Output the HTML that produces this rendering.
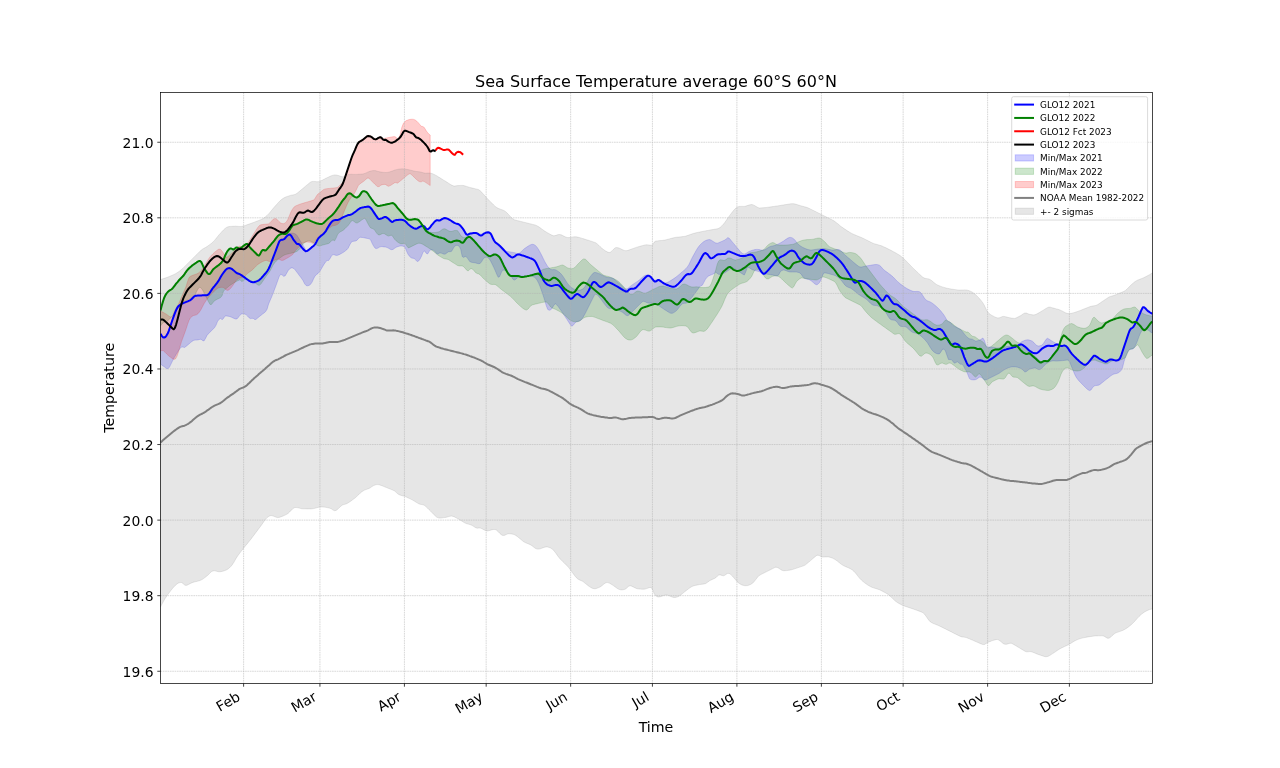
<!DOCTYPE html>
<html lang="en"><head><meta charset="utf-8"><title>Sea Surface Temperature average 60°S 60°N</title>
<style>html,body{margin:0;padding:0;background:#fff;width:1280px;height:768px;overflow:hidden}</style></head>
<body>
<svg width="1280" height="768" viewBox="0 0 1280 768" style="display:block;font-family:'DejaVu Sans','Liberation Sans',sans-serif">
<rect width="1280" height="768" fill="#fff"/>
<defs><clipPath id="ax"><rect x="160.5" y="92.5" width="992.0" height="591.0"/></clipPath></defs>
<g clip-path="url(#ax)">
<path d="M160.5,333.8L162.0,336.3L163.5,337.5L165.0,337.2L166.5,335.6L168.0,332.9L169.5,328.8L171.0,324.2L172.5,319.7L174.0,315.5L175.5,311.5L177.0,308.2L178.5,306.1L180.0,305.0L181.5,304.0L183.0,303.2L184.5,302.5L186.0,302.0L187.5,301.4L189.0,300.8L190.5,300.1L192.0,298.7L193.5,297.0L195.0,295.9L196.5,295.7L198.0,295.6L199.5,295.5L201.0,295.4L202.5,295.3L204.0,295.3L205.5,295.2L207.0,295.1L208.5,294.4L210.0,292.4L211.5,289.9L213.0,287.8L214.5,286.0L216.0,284.1L217.5,282.2L219.0,279.9L220.5,277.2L222.0,274.8L223.5,272.6L225.0,270.6L226.5,269.0L228.0,268.3L229.5,268.1L231.0,268.5L232.5,269.4L234.0,270.8L235.5,272.2L237.0,273.2L238.5,273.8L240.0,274.3L241.5,275.2L243.0,276.3L244.5,277.5L246.0,278.6L247.5,279.7L249.0,280.6L250.5,281.5L252.0,282.2L253.5,282.2L255.0,281.9L256.5,281.4L258.0,280.8L259.5,279.8L261.1,278.3L262.6,276.6L264.1,274.9L265.6,273.2L267.1,271.2L268.6,268.8L270.1,265.6L271.6,261.7L273.1,257.7L274.6,253.7L276.1,249.7L277.6,245.7L279.1,241.8L280.6,240.0L282.1,239.7L283.6,239.5L285.1,238.0L286.6,236.0L288.1,234.6L289.6,233.7L291.1,233.2L292.6,233.1L294.1,233.4L295.6,234.1L297.1,235.6L298.6,238.0L300.1,240.6L301.6,243.0L303.1,245.2L304.6,247.8L306.1,250.4L307.6,250.8L309.1,249.6L310.6,248.3L312.1,247.2L313.6,245.9L315.1,244.3L316.6,241.5L318.1,238.8L319.6,237.2L321.1,235.8L322.6,234.6L324.1,233.2L325.6,231.5L327.1,228.9L328.6,226.3L330.1,223.9L331.6,221.9L333.1,220.7L334.6,220.2L336.1,219.9L337.6,220.0L339.1,219.6L340.6,218.7L342.1,217.8L343.6,217.0L345.1,216.4L346.6,215.7L348.1,215.2L349.6,215.0L351.1,214.6L352.6,213.7L354.1,212.7L355.6,211.6L357.1,210.4L358.6,209.2L360.1,208.2L361.6,207.7L363.1,207.4L364.6,207.1L366.1,206.8L367.6,206.6L369.1,206.8L370.6,207.7L372.1,209.7L373.6,212.0L375.1,214.3L376.6,216.5L378.1,218.5L379.6,219.0L381.1,218.5L382.6,218.0L384.1,217.2L385.6,217.0L387.1,217.8L388.6,219.0L390.1,220.5L391.6,221.9L393.1,221.7L394.6,220.5L396.1,220.2L397.6,219.9L399.1,219.8L400.6,219.8L402.1,219.9L403.6,220.3L405.1,221.1L406.6,222.5L408.1,224.2L409.6,225.5L411.1,226.6L412.6,227.6L414.1,228.4L415.6,228.8L417.1,228.5L418.6,227.4L420.1,226.6L421.6,226.1L423.1,225.9L424.6,226.7L426.1,228.7L427.6,229.3L429.1,228.3L430.6,226.5L432.1,224.5L433.6,222.8L435.1,221.2L436.6,220.3L438.1,220.4L439.6,220.5L441.1,219.7L442.6,218.7L444.1,218.2L445.6,218.1L447.1,218.6L448.6,219.3L450.1,220.1L451.6,221.1L453.1,222.1L454.6,223.0L456.1,223.6L457.6,223.9L459.2,224.6L460.7,226.0L462.2,227.9L463.7,229.9L465.2,232.4L466.7,234.5L468.2,234.5L469.7,233.1L471.2,233.1L472.7,233.2L474.2,233.4L475.7,233.6L477.2,233.8L478.7,233.9L480.2,234.0L481.7,233.9L483.2,233.6L484.7,233.3L486.2,233.0L487.7,232.8L489.2,232.8L490.7,233.4L492.2,235.6L493.7,238.8L495.2,241.8L496.7,243.8L498.2,245.6L499.7,247.2L501.2,248.7L502.7,249.9L504.2,250.5L505.7,251.0L507.2,251.4L508.7,251.7L510.2,251.9L511.7,252.2L513.2,252.4L514.7,252.7L516.2,253.2L517.7,253.6L519.2,253.3L520.7,252.2L522.2,250.7L523.7,249.2L525.2,248.1L526.7,247.1L528.2,246.1L529.7,245.2L531.2,244.5L532.7,244.3L534.2,244.7L535.7,245.7L537.2,247.4L538.7,249.7L540.2,252.4L541.7,255.3L543.2,258.4L544.7,261.4L546.2,264.1L547.7,266.4L549.2,268.3L550.7,269.4L552.2,269.7L553.7,269.6L555.2,269.7L556.7,270.4L558.2,271.4L559.7,272.6L561.2,274.1L562.7,275.9L564.2,278.2L565.7,280.6L567.2,282.9L568.7,284.9L570.2,286.5L571.7,287.8L573.2,288.7L574.7,289.4L576.2,289.7L577.7,290.0L579.2,290.1L580.7,289.9L582.2,289.3L583.7,288.3L585.2,286.3L586.7,283.4L588.2,280.2L589.7,277.4L591.2,275.4L592.7,273.6L594.2,272.5L595.7,272.5L597.2,272.9L598.7,273.4L600.2,274.1L601.7,274.9L603.2,275.6L604.7,276.4L606.2,277.1L607.7,277.5L609.2,277.6L610.7,277.7L612.2,278.0L613.7,278.8L615.2,280.0L616.7,281.3L618.2,282.5L619.7,283.8L621.2,285.2L622.7,286.8L624.2,288.2L625.7,289.0L627.2,288.8L628.7,287.8L630.2,286.4L631.7,285.2L633.2,284.2L634.7,283.2L636.2,282.2L637.7,281.2L639.2,280.1L640.7,278.8L642.2,277.4L643.7,276.2L645.2,275.3L646.7,275.1L648.2,275.4L649.7,276.0L651.2,277.5L652.7,279.2L654.2,280.1L655.7,280.1L657.3,279.9L658.8,279.9L660.3,280.7L661.8,281.9L663.3,282.8L664.8,283.0L666.3,282.7L667.8,282.2L669.3,281.4L670.8,280.5L672.3,279.6L673.8,278.6L675.3,277.6L676.8,276.4L678.3,275.2L679.8,273.9L681.3,272.6L682.8,271.4L684.3,270.1L685.8,268.7L687.3,267.0L688.8,264.7L690.3,261.6L691.8,258.4L693.3,255.6L694.8,252.9L696.3,250.2L697.8,247.8L699.3,245.8L700.8,244.2L702.3,242.8L703.8,241.6L705.3,240.7L706.8,240.1L708.3,239.7L709.8,239.6L711.3,240.2L712.8,241.2L714.3,242.2L715.8,243.0L717.3,243.2L718.8,242.7L720.3,242.0L721.8,241.4L723.3,240.7L724.8,240.0L726.3,238.9L727.8,237.6L729.3,238.3L730.8,240.1L732.3,241.9L733.8,243.7L735.3,245.5L736.8,247.3L738.3,249.1L739.8,250.9L741.3,252.6L742.8,253.7L744.3,254.0L745.8,253.5L747.3,252.5L748.8,251.6L750.3,250.9L751.8,250.4L753.3,250.0L754.8,249.6L756.3,249.4L757.8,249.4L759.3,249.6L760.8,250.0L762.3,250.2L763.8,250.0L765.3,249.5L766.8,248.5L768.3,247.5L769.8,246.7L771.3,246.2L772.8,245.9L774.3,245.6L775.8,245.1L777.3,244.4L778.8,243.7L780.3,242.9L781.8,242.1L783.3,241.2L784.8,240.1L786.3,239.1L787.8,238.1L789.3,237.5L790.8,237.4L792.3,237.9L793.8,238.9L795.3,240.5L796.8,242.7L798.3,244.3L799.8,245.5L801.3,246.5L802.8,247.4L804.3,248.1L805.8,248.8L807.3,249.3L808.8,249.7L810.3,250.0L811.8,250.0L813.3,249.8L814.8,249.5L816.3,249.3L817.8,249.0L819.3,248.9L820.8,248.7L822.3,248.6L823.8,248.6L825.3,248.7L826.8,248.9L828.3,249.3L829.8,249.6L831.3,249.9L832.8,250.1L834.3,249.9L835.8,249.7L837.3,249.5L838.8,249.6L840.3,250.2L841.8,251.6L843.3,253.3L844.8,254.9L846.3,256.1L847.8,257.4L849.3,258.6L850.8,259.9L852.3,261.2L853.8,262.5L855.4,263.8L856.9,265.1L858.4,266.2L859.9,266.9L861.4,267.0L862.9,266.7L864.4,266.3L865.9,266.0L867.4,265.8L868.9,265.5L870.4,265.3L871.9,265.0L873.4,264.8L874.9,264.6L876.4,264.5L877.9,264.7L879.4,265.2L880.9,266.5L882.4,268.3L883.9,269.9L885.4,271.0L886.9,272.1L888.4,273.2L889.9,274.3L891.4,275.5L892.9,276.8L894.4,278.3L895.9,279.9L897.4,281.4L898.9,282.7L900.4,284.0L901.9,285.1L903.4,286.2L904.9,287.3L906.4,288.2L907.9,289.1L909.4,289.8L910.9,290.5L912.4,291.1L913.9,291.5L915.4,291.5L916.9,291.4L918.4,291.5L919.9,291.9L921.4,293.3L922.9,295.7L924.4,298.1L925.9,299.9L927.4,300.8L928.9,301.4L930.4,302.0L931.9,302.9L933.4,304.0L934.9,305.2L936.4,306.5L937.9,307.9L939.4,309.4L940.9,311.1L942.4,313.0L943.9,314.9L945.4,317.4L946.9,320.2L948.4,321.5L949.9,321.9L951.4,323.5L952.9,325.2L954.4,326.2L955.9,327.0L957.4,327.7L958.9,328.5L960.4,329.3L961.9,330.9L963.4,332.7L964.9,334.7L966.4,336.4L967.9,337.8L969.4,338.7L970.9,339.0L972.4,339.2L973.9,340.2L975.4,341.0L976.9,340.9L978.4,340.5L979.9,340.0L981.4,339.0L982.9,338.0L984.4,340.4L985.9,345.3L987.4,347.0L988.9,347.0L990.4,346.9L991.9,347.0L993.4,347.3L994.9,347.7L996.4,348.0L997.9,348.0L999.4,347.8L1000.9,347.5L1002.4,347.3L1003.9,347.0L1005.4,346.8L1006.9,346.5L1008.4,346.3L1009.9,346.0L1011.4,345.9L1012.9,345.8L1014.4,345.8L1015.9,345.6L1017.4,345.0L1018.9,343.9L1020.4,342.7L1021.9,341.6L1023.4,340.9L1024.9,340.3L1026.4,339.9L1027.9,339.8L1029.4,340.1L1030.9,340.6L1032.4,341.2L1033.9,342.6L1035.4,344.3L1036.9,345.6L1038.4,346.0L1039.9,345.8L1041.4,345.3L1042.9,344.2L1044.4,341.9L1045.9,339.5L1047.4,338.3L1048.9,339.0L1050.4,340.0L1051.9,341.0L1053.5,341.9L1055.0,342.8L1056.5,343.7L1058.0,344.4L1059.5,344.9L1061.0,345.3L1062.5,345.7L1064.0,346.1L1065.5,346.3L1067.0,346.7L1068.5,347.3L1070.0,350.1L1071.5,353.2L1073.0,355.0L1074.5,356.6L1076.0,358.1L1077.5,359.5L1079.0,360.9L1080.5,362.2L1082.0,363.3L1083.5,364.3L1085.0,364.8L1086.5,364.4L1088.0,363.0L1089.5,361.2L1091.0,359.3L1092.5,357.4L1094.0,355.7L1095.5,356.0L1097.0,356.9L1098.5,358.0L1100.0,359.0L1101.5,359.8L1103.0,360.7L1104.5,361.4L1106.0,361.7L1107.5,361.0L1109.0,360.0L1110.5,359.5L1112.0,359.6L1113.5,360.0L1115.0,360.3L1116.5,360.4L1118.0,360.2L1119.5,359.1L1121.0,356.0L1122.5,351.5L1124.0,347.0L1125.5,342.5L1127.0,338.0L1128.5,333.5L1130.0,329.8L1131.5,328.3L1133.0,327.4L1134.5,325.1L1136.0,322.2L1137.5,319.1L1139.0,315.7L1140.5,312.2L1142.0,308.8L1143.5,307.0L1145.0,307.9L1146.5,309.6L1148.0,311.0L1149.5,312.1L1151.0,313.1L1152.5,313.6L1152.5,333.0L1151.0,332.4L1149.5,331.1L1148.0,330.0L1146.5,329.3L1145.0,329.0L1143.5,329.1L1142.0,330.5L1140.5,333.0L1139.0,336.6L1137.5,340.8L1136.0,344.3L1134.5,347.2L1133.0,349.0L1131.5,349.2L1130.0,349.3L1128.5,350.7L1127.0,353.3L1125.5,356.8L1124.0,361.7L1122.5,367.8L1121.0,370.6L1119.5,372.1L1118.0,373.0L1116.5,373.5L1115.0,373.8L1113.5,374.2L1112.0,375.0L1110.5,376.1L1109.0,377.3L1107.5,378.4L1106.0,379.6L1104.5,380.8L1103.0,382.0L1101.5,383.2L1100.0,384.4L1098.5,385.2L1097.0,385.4L1095.5,385.6L1094.0,386.0L1092.5,387.8L1091.0,390.0L1089.5,390.6L1088.0,389.8L1086.5,388.5L1085.0,387.0L1083.5,385.5L1082.0,384.0L1080.5,382.4L1079.0,380.9L1077.5,379.1L1076.0,376.9L1074.5,373.9L1073.0,370.2L1071.5,366.7L1070.0,362.8L1068.5,360.2L1067.0,360.1L1065.5,360.3L1064.0,360.4L1062.5,360.6L1061.0,360.7L1059.5,360.9L1058.0,361.0L1056.5,361.1L1055.0,361.0L1053.5,360.9L1051.9,361.0L1050.4,361.4L1048.9,362.1L1047.4,363.1L1045.9,364.0L1044.4,365.4L1042.9,367.1L1041.4,368.6L1039.9,369.6L1038.4,369.5L1036.9,368.7L1035.4,368.0L1033.9,368.1L1032.4,368.4L1030.9,368.7L1029.4,369.2L1027.9,370.3L1026.4,371.5L1024.9,372.0L1023.4,370.6L1021.9,369.0L1020.4,368.3L1018.9,367.7L1017.4,367.2L1015.9,367.0L1014.4,366.9L1012.9,366.9L1011.4,367.0L1009.9,367.3L1008.4,367.8L1006.9,368.4L1005.4,369.2L1003.9,370.0L1002.4,371.1L1000.9,372.1L999.4,373.2L997.9,374.0L996.4,374.8L994.9,375.5L993.4,376.3L991.9,377.0L990.4,377.8L988.9,378.5L987.4,379.3L985.9,380.0L984.4,379.9L982.9,378.6L981.4,377.4L979.9,377.0L978.4,377.9L976.9,379.1L975.4,379.7L973.9,379.9L972.4,379.8L970.9,379.6L969.4,378.6L967.9,374.7L966.4,371.1L964.9,368.8L963.4,365.6L961.9,364.3L960.4,364.2L958.9,362.9L957.4,361.8L955.9,362.6L954.4,363.2L952.9,361.4L951.4,359.6L949.9,359.7L948.4,359.4L946.9,355.2L945.4,350.9L943.9,349.1L942.4,349.4L940.9,351.9L939.4,353.9L937.9,353.9L936.4,353.5L934.9,352.7L933.4,351.5L931.9,349.9L930.4,347.7L928.9,345.2L927.4,342.8L925.9,340.9L924.4,339.3L922.9,337.8L921.4,336.4L919.9,335.2L918.4,334.2L916.9,333.5L915.4,333.1L913.9,332.7L912.4,332.2L910.9,331.2L909.4,329.9L907.9,328.5L906.4,327.2L904.9,326.6L903.4,326.5L901.9,326.5L900.4,326.2L898.9,324.9L897.4,322.6L895.9,320.9L894.4,320.2L892.9,320.1L891.4,319.8L889.9,318.9L888.4,316.8L886.9,314.2L885.4,311.7L883.9,309.9L882.4,308.6L880.9,307.6L879.4,306.7L877.9,305.9L876.4,305.6L874.9,305.4L873.4,305.2L871.9,304.5L870.4,303.2L868.9,301.7L867.4,300.1L865.9,298.9L864.4,297.9L862.9,297.0L861.4,296.2L859.9,295.2L858.4,294.3L856.9,293.1L855.4,291.8L853.8,290.5L852.3,289.3L850.8,288.3L849.3,287.7L847.8,287.1L846.3,286.3L844.8,284.9L843.3,283.0L841.8,281.1L840.3,279.3L838.8,278.0L837.3,276.8L835.8,275.9L834.3,275.3L832.8,274.8L831.3,274.4L829.8,274.0L828.3,273.5L826.8,273.2L825.3,273.0L823.8,273.0L822.3,275.9L820.8,280.4L819.3,282.8L817.8,284.3L816.3,284.7L814.8,283.9L813.3,282.6L811.8,281.3L810.3,280.2L808.8,279.5L807.3,279.2L805.8,278.8L804.3,278.2L802.8,276.7L801.3,274.4L799.8,272.9L798.3,272.4L796.8,272.1L795.3,272.0L793.8,272.0L792.3,272.0L790.8,272.0L789.3,271.9L787.8,271.4L786.3,270.8L784.8,270.2L783.3,270.0L781.8,270.6L780.3,271.7L778.8,274.8L777.3,275.9L775.8,275.6L774.3,275.4L772.8,275.1L771.3,274.9L769.8,274.6L768.3,274.4L766.8,274.1L765.3,273.9L763.8,273.4L762.3,272.8L760.8,272.3L759.3,271.8L757.8,271.3L756.3,270.9L754.8,270.5L753.3,270.1L751.8,269.4L750.3,268.4L748.8,267.4L747.3,267.6L745.8,271.8L744.3,275.0L742.8,274.2L741.3,273.2L739.8,272.2L738.3,271.2L736.8,270.2L735.3,269.1L733.8,268.3L732.3,268.0L730.8,268.7L729.3,269.8L727.8,270.8L726.3,271.8L724.8,272.7L723.3,273.5L721.8,274.0L720.3,274.3L718.8,274.4L717.3,273.4L715.8,272.1L714.3,273.4L712.8,274.2L711.3,274.8L709.8,275.4L708.3,276.2L706.8,277.5L705.3,279.6L703.8,282.5L702.3,285.2L700.8,285.7L699.3,287.3L697.8,289.4L696.3,291.5L694.8,293.5L693.3,295.5L691.8,297.5L690.3,299.3L688.8,301.1L687.3,302.7L685.8,303.2L684.3,303.3L682.8,303.6L681.3,304.7L679.8,306.5L678.3,308.5L676.8,310.3L675.3,311.6L673.8,312.6L672.3,313.3L670.8,313.3L669.3,312.6L667.8,311.7L666.3,310.7L664.8,309.8L663.3,308.8L661.8,307.8L660.3,306.8L658.8,305.6L657.3,304.6L655.7,303.9L654.2,303.5L652.7,303.3L651.2,303.2L649.7,303.2L648.2,303.0L646.7,302.6L645.2,301.8L643.7,301.3L642.2,301.8L640.7,303.3L639.2,304.8L637.7,306.3L636.2,307.8L634.7,309.3L633.2,310.8L631.7,312.3L630.2,313.8L628.7,315.2L627.2,315.7L625.7,315.0L624.2,313.7L622.7,312.4L621.2,311.6L619.7,310.9L618.2,310.1L616.7,309.3L615.2,308.6L613.7,307.9L612.2,307.9L610.7,308.4L609.2,308.6L607.7,307.8L606.2,306.2L604.7,304.3L603.2,302.3L601.7,300.2L600.2,298.3L598.7,296.4L597.2,294.7L595.7,294.0L594.2,295.6L592.7,298.5L591.2,301.5L589.7,304.6L588.2,307.6L586.7,310.6L585.2,313.5L583.7,316.2L582.2,318.6L580.7,320.3L579.2,321.1L577.7,321.4L576.2,321.9L574.7,323.3L573.2,325.3L571.7,326.2L570.2,324.5L568.7,322.2L567.2,319.8L565.7,317.6L564.2,315.3L562.7,313.1L561.2,310.8L559.7,308.7L558.2,306.6L556.7,304.8L555.2,303.7L553.7,305.5L552.2,308.3L550.7,309.7L549.2,310.3L547.7,309.4L546.2,305.6L544.7,300.3L543.2,295.6L541.7,291.2L540.2,287.0L538.7,283.3L537.2,280.4L535.7,278.3L534.2,277.1L532.7,276.5L531.2,276.1L529.7,275.8L528.2,275.6L526.7,275.6L525.2,275.6L523.7,275.6L522.2,275.8L520.7,275.9L519.2,276.3L517.7,277.5L516.2,279.0L514.7,280.0L513.2,279.5L511.7,277.3L510.2,274.6L508.7,272.7L507.2,271.6L505.7,270.7L504.2,270.2L502.7,270.1L501.2,272.8L499.7,276.5L498.2,277.3L496.7,274.2L495.2,270.6L493.7,267.3L492.2,264.2L490.7,261.2L489.2,258.7L487.7,257.4L486.2,257.2L484.7,257.6L483.2,258.9L481.7,261.6L480.2,263.4L478.7,263.7L477.2,263.4L475.7,263.0L474.2,262.7L472.7,262.5L471.2,262.2L469.7,261.5L468.2,259.3L466.7,257.1L465.2,256.4L463.7,257.4L462.2,256.5L460.7,249.3L459.2,246.3L457.6,245.4L456.1,245.4L454.6,246.3L453.1,248.7L451.6,251.3L450.1,251.7L448.6,251.7L447.1,252.7L445.6,253.9L444.1,254.2L442.6,253.7L441.1,253.1L439.6,253.0L438.1,254.0L436.6,253.6L435.1,251.8L433.6,250.3L432.1,249.7L430.6,249.7L429.1,251.6L427.6,254.0L426.1,253.2L424.6,250.9L423.1,252.1L421.6,256.0L420.1,259.0L418.6,261.1L417.1,261.5L415.6,259.8L414.1,258.4L412.6,258.2L411.1,257.8L409.6,256.4L408.1,254.4L406.6,251.3L405.1,247.4L403.6,246.4L402.1,246.0L400.6,246.0L399.1,246.2L397.6,246.7L396.1,247.3L394.6,248.3L393.1,249.4L391.6,249.7L390.1,249.2L388.6,248.3L387.1,247.5L385.6,247.1L384.1,246.9L382.6,246.7L381.1,246.6L379.6,247.1L378.1,248.0L376.6,248.6L375.1,248.2L373.6,246.1L372.1,243.3L370.6,239.8L369.1,238.8L367.6,238.5L366.1,238.2L364.6,237.9L363.1,237.6L361.6,237.4L360.1,237.3L358.6,238.3L357.1,240.2L355.6,241.0L354.1,241.2L352.6,241.4L351.1,242.4L349.6,245.2L348.1,248.3L346.6,249.9L345.1,251.1L343.6,252.2L342.1,253.1L340.6,253.9L339.1,254.7L337.6,255.3L336.1,255.4L334.6,254.9L333.1,254.6L331.6,255.7L330.1,258.4L328.6,260.5L327.1,260.5L325.6,261.9L324.1,264.2L322.6,266.7L321.1,269.3L319.6,271.8L318.1,273.4L316.6,274.5L315.1,275.9L313.6,278.7L312.1,282.1L310.6,284.3L309.1,285.4L307.6,285.8L306.1,285.5L304.6,283.8L303.1,280.7L301.6,278.5L300.1,276.5L298.6,274.5L297.1,272.5L295.6,270.5L294.1,268.7L292.6,268.0L291.1,267.9L289.6,268.9L288.1,270.7L286.6,273.4L285.1,275.9L283.6,276.3L282.1,274.9L280.6,274.3L279.1,276.8L277.6,281.1L276.1,285.3L274.6,289.3L273.1,293.3L271.6,297.1L270.1,300.5L268.6,304.0L267.1,309.2L265.6,311.6L264.1,312.9L262.6,314.0L261.1,315.2L259.5,316.4L258.0,317.7L256.5,319.0L255.0,319.8L253.5,318.5L252.0,318.3L250.5,318.6L249.0,317.8L247.5,316.0L246.0,314.6L244.5,314.0L243.0,313.8L241.5,314.0L240.0,315.1L238.5,317.2L237.0,318.9L235.5,319.0L234.0,318.4L232.5,317.7L231.0,317.0L229.5,316.5L228.0,316.2L226.5,316.0L225.0,316.0L223.5,318.4L222.0,319.8L220.5,318.3L219.0,319.4L217.5,321.6L216.0,325.3L214.5,327.7L213.0,329.2L211.5,330.7L210.0,332.2L208.5,333.7L207.0,335.4L205.5,338.4L204.0,341.0L202.5,340.4L201.0,339.2L199.5,339.5L198.0,339.9L196.5,340.1L195.0,340.1L193.5,340.4L192.0,341.4L190.5,342.6L189.0,343.9L187.5,345.2L186.0,346.4L184.5,347.5L183.0,347.1L181.5,347.0L180.0,348.6L178.5,350.7L177.0,353.0L175.5,355.5L174.0,358.0L172.5,360.9L171.0,364.0L169.5,367.1L168.0,368.8L166.5,368.4L165.0,367.3L163.5,366.3L162.0,365.2L160.5,364.1Z" fill="#0000ff" fill-opacity="0.2" stroke="#0000ff" stroke-opacity="0.2" stroke-width="0.9" stroke-linejoin="round"/>
<path d="M160.5,310.4L162.0,304.6L163.5,299.7L165.0,296.0L166.5,293.5L168.0,291.7L169.5,290.5L171.0,289.7L172.5,288.5L174.0,286.5L175.5,284.4L177.0,282.6L178.5,280.8L180.0,279.1L181.5,277.6L183.0,276.1L184.5,274.1L186.0,271.8L187.5,269.9L189.0,268.3L190.5,266.9L192.0,265.6L193.5,264.5L195.0,263.5L196.5,262.5L198.0,261.4L199.5,261.0L201.0,261.6L202.5,264.8L204.0,268.0L205.5,270.4L207.0,272.5L208.5,274.0L210.0,273.7L211.5,271.8L213.0,269.5L214.5,268.1L216.0,267.0L217.5,266.0L219.0,264.8L220.5,263.4L222.0,261.8L223.5,259.4L225.0,255.8L226.5,252.6L228.0,250.3L229.5,248.8L231.0,248.5L232.5,249.2L234.0,249.2L235.5,247.9L237.0,247.6L238.5,248.4L240.0,248.5L241.5,247.4L243.0,246.1L244.5,245.1L246.0,244.1L247.5,244.0L249.0,246.1L250.5,248.0L252.0,249.5L253.5,251.0L255.0,252.5L256.5,254.0L258.0,255.5L259.5,255.0L261.1,252.0L262.6,250.0L264.1,250.2L265.6,250.5L267.1,249.1L268.6,247.3L270.1,245.6L271.6,243.8L273.1,242.1L274.6,240.2L276.1,238.1L277.6,236.2L279.1,234.9L280.6,234.2L282.1,233.7L283.6,233.8L285.1,234.1L286.6,233.5L288.1,231.9L289.6,230.0L291.1,227.6L292.6,225.6L294.1,224.8L295.6,224.4L297.1,223.9L298.6,223.2L300.1,222.5L301.6,221.7L303.1,220.9L304.6,220.1L306.1,219.5L307.6,219.5L309.1,220.1L310.6,221.0L312.1,221.6L313.6,222.1L315.1,222.7L316.6,223.2L318.1,223.7L319.6,223.9L321.1,224.0L322.6,223.7L324.1,222.6L325.6,221.1L327.1,219.5L328.6,218.2L330.1,216.9L331.6,215.6L333.1,214.1L334.6,212.4L336.1,210.4L337.6,208.4L339.1,206.1L340.6,203.7L342.1,201.4L343.6,199.5L345.1,197.8L346.6,195.4L348.1,193.8L349.6,193.2L351.1,193.8L352.6,195.2L354.1,196.5L355.6,197.3L357.1,197.5L358.6,196.6L360.1,194.9L361.6,192.2L363.1,191.2L364.6,191.3L366.1,191.8L367.6,193.3L369.1,195.5L370.6,197.8L372.1,199.9L373.6,202.0L375.1,203.9L376.6,205.3L378.1,206.0L379.6,205.8L381.1,205.6L382.6,205.3L384.1,204.9L385.6,204.6L387.1,204.2L388.6,203.9L390.1,203.5L391.6,203.2L393.1,203.2L394.6,204.1L396.1,205.8L397.6,207.9L399.1,209.7L400.6,211.4L402.1,213.1L403.6,214.9L405.1,216.9L406.6,218.6L408.1,219.5L409.6,219.8L411.1,219.7L412.6,219.4L414.1,219.1L415.6,219.1L417.1,219.3L418.6,220.3L420.1,222.1L421.6,224.2L423.1,226.2L424.6,228.1L426.1,229.8L427.6,231.1L429.1,231.9L430.6,232.3L432.1,232.5L433.6,232.5L435.1,232.5L436.6,232.3L438.1,232.0L439.6,231.5L441.1,230.3L442.6,229.2L444.1,228.7L445.6,229.1L447.1,229.9L448.6,230.8L450.1,231.3L451.6,231.3L453.1,230.9L454.6,230.5L456.1,230.4L457.6,230.7L459.2,232.9L460.7,235.6L462.2,236.8L463.7,237.4L465.2,237.8L466.7,237.9L468.2,237.4L469.7,236.9L471.2,237.8L472.7,239.2L474.2,240.9L475.7,242.6L477.2,244.3L478.7,246.1L480.2,247.9L481.7,249.6L483.2,251.3L484.7,252.7L486.2,254.0L487.7,255.1L489.2,256.1L490.7,256.1L492.2,255.4L493.7,254.6L495.2,254.4L496.7,254.9L498.2,255.8L499.7,257.5L501.2,260.1L502.7,263.3L504.2,266.4L505.7,269.2L507.2,272.0L508.7,274.4L510.2,275.7L511.7,276.1L513.2,276.1L514.7,276.0L516.2,275.9L517.7,275.9L519.2,276.3L520.7,276.8L522.2,277.0L523.7,276.9L525.2,276.7L526.7,276.4L528.2,276.1L529.7,275.7L531.2,275.3L532.7,274.9L534.2,274.4L535.7,273.9L537.2,273.3L538.7,272.6L540.2,271.5L541.7,270.2L543.2,269.3L544.7,268.9L546.2,268.6L547.7,268.4L549.2,268.1L550.7,267.9L552.2,267.6L553.7,267.4L555.2,267.1L556.7,266.8L558.2,266.3L559.7,265.7L561.2,265.2L562.7,265.0L564.2,265.7L565.7,266.7L567.2,267.7L568.7,268.2L570.2,268.5L571.7,268.7L573.2,268.4L574.7,267.5L576.2,266.0L577.7,264.3L579.2,262.8L580.7,261.3L582.2,259.8L583.7,258.9L585.2,259.1L586.7,260.4L588.2,262.1L589.7,263.7L591.2,265.0L592.7,266.3L594.2,267.5L595.7,268.8L597.2,270.0L598.7,271.3L600.2,272.5L601.7,273.8L603.2,274.9L604.7,275.5L606.2,276.0L607.7,276.3L609.2,276.7L610.7,277.3L612.2,277.9L613.7,278.6L615.2,279.3L616.7,280.2L618.2,281.2L619.7,282.5L621.2,284.0L622.7,285.6L624.2,287.2L625.7,289.0L627.2,290.9L628.7,292.8L630.2,294.2L631.7,294.5L633.2,293.9L634.7,292.7L636.2,291.6L637.7,291.0L639.2,291.2L640.7,291.8L642.2,292.5L643.7,293.1L645.2,293.2L646.7,292.7L648.2,292.0L649.7,291.2L651.2,290.4L652.7,289.6L654.2,288.9L655.7,288.2L657.3,287.4L658.8,286.7L660.3,286.2L661.8,286.0L663.3,286.1L664.8,286.4L666.3,286.9L667.8,287.4L669.3,287.8L670.8,288.2L672.3,288.4L673.8,288.7L675.3,288.9L676.8,288.9L678.3,288.1L679.8,286.8L681.3,285.4L682.8,284.3L684.3,284.0L685.8,284.4L687.3,285.1L688.8,285.9L690.3,286.6L691.8,287.0L693.3,287.0L694.8,286.9L696.3,286.8L697.8,286.9L699.3,287.1L700.8,287.3L702.3,287.5L703.8,287.6L705.3,287.5L706.8,287.3L708.3,287.1L709.8,286.3L711.3,283.5L712.8,279.2L714.3,274.7L715.8,269.7L717.3,263.9L718.8,260.8L720.3,259.8L721.8,259.9L723.3,260.3L724.8,260.3L726.3,259.3L727.8,258.1L729.3,257.9L730.8,258.3L732.3,259.0L733.8,259.7L735.3,260.1L736.8,259.8L738.3,259.4L739.8,258.9L741.3,258.3L742.8,257.6L744.3,256.6L745.8,255.5L747.3,254.4L748.8,253.5L750.3,252.9L751.8,252.6L753.3,252.4L754.8,252.2L756.3,251.9L757.8,251.6L759.3,251.2L760.8,250.8L762.3,250.3L763.8,249.5L765.3,248.0L766.8,246.2L768.3,244.8L769.8,243.7L771.3,242.9L772.8,242.6L774.3,243.0L775.8,244.0L777.3,244.8L778.8,245.0L780.3,245.1L781.8,245.1L783.3,245.1L784.8,245.1L786.3,245.0L787.8,244.9L789.3,244.8L790.8,244.6L792.3,244.4L793.8,244.1L795.3,243.4L796.8,242.6L798.3,241.9L799.8,241.3L801.3,240.7L802.8,240.3L804.3,239.9L805.8,239.8L807.3,239.6L808.8,239.6L810.3,239.5L811.8,239.4L813.3,239.2L814.8,238.8L816.3,238.4L817.8,238.1L819.3,238.0L820.8,238.6L822.3,239.6L823.8,240.9L825.3,242.3L826.8,244.1L828.3,245.8L829.8,246.9L831.3,247.6L832.8,248.1L834.3,248.7L835.8,249.2L837.3,249.7L838.8,250.4L840.3,251.0L841.8,251.7L843.3,252.3L844.8,252.9L846.3,253.1L847.8,252.8L849.3,252.4L850.8,252.5L852.3,252.7L853.8,253.0L855.4,253.6L856.9,254.5L858.4,255.8L859.9,257.3L861.4,259.1L862.9,261.3L864.4,263.6L865.9,265.8L867.4,267.8L868.9,269.8L870.4,271.8L871.9,273.8L873.4,275.8L874.9,277.8L876.4,279.8L877.9,281.8L879.4,283.7L880.9,285.5L882.4,287.2L883.9,288.8L885.4,290.5L886.9,292.0L888.4,293.5L889.9,294.9L891.4,296.0L892.9,296.9L894.4,297.8L895.9,298.9L897.4,300.3L898.9,301.9L900.4,303.5L901.9,305.1L903.4,306.5L904.9,307.7L906.4,308.8L907.9,309.9L909.4,311.0L910.9,312.2L912.4,313.3L913.9,314.4L915.4,315.5L916.9,316.7L918.4,317.8L919.9,318.9L921.4,319.7L922.9,320.0L924.4,319.9L925.9,319.7L927.4,319.8L928.9,320.4L930.4,321.3L931.9,322.4L933.4,323.6L934.9,324.5L936.4,325.1L937.9,325.2L939.4,325.0L940.9,324.5L942.4,323.7L943.9,321.8L945.4,320.1L946.9,320.4L948.4,321.2L949.9,322.2L951.4,323.1L952.9,324.1L954.4,325.4L955.9,326.6L957.4,327.7L958.9,328.5L960.4,329.2L961.9,330.0L963.4,330.7L964.9,331.5L966.4,332.1L967.9,332.0L969.4,333.2L970.9,335.1L972.4,336.2L973.9,336.5L975.4,337.0L976.9,338.2L978.4,339.3L979.9,340.2L981.4,341.0L982.9,341.9L984.4,343.7L985.9,346.1L987.4,347.8L988.9,347.8L990.4,347.0L991.9,345.9L993.4,344.6L994.9,343.4L996.4,342.1L997.9,340.8L999.4,339.5L1000.9,338.2L1002.4,337.0L1003.9,335.9L1005.4,335.2L1006.9,335.0L1008.4,335.5L1009.9,336.4L1011.4,337.6L1012.9,338.7L1014.4,340.0L1015.9,341.2L1017.4,342.3L1018.9,342.9L1020.4,343.5L1021.9,344.3L1023.4,345.8L1024.9,347.6L1026.4,349.4L1027.9,350.9L1029.4,352.2L1030.9,353.3L1032.4,354.4L1033.9,355.4L1035.4,356.6L1036.9,357.9L1038.4,359.5L1039.9,361.0L1041.4,361.9L1042.9,362.2L1044.4,362.2L1045.9,361.7L1047.4,360.8L1048.9,359.6L1050.4,358.2L1051.9,356.5L1053.5,354.7L1055.0,352.9L1056.5,351.0L1058.0,348.1L1059.5,342.3L1061.0,336.4L1062.5,331.4L1064.0,328.3L1065.5,326.5L1067.0,325.5L1068.5,324.7L1070.0,323.9L1071.5,323.5L1073.0,324.0L1074.5,324.8L1076.0,325.9L1077.5,326.8L1079.0,327.3L1080.5,327.8L1082.0,328.1L1083.5,328.3L1085.0,328.3L1086.5,327.7L1088.0,326.8L1089.5,325.5L1091.0,322.3L1092.5,318.6L1094.0,317.0L1095.5,318.2L1097.0,320.0L1098.5,321.3L1100.0,322.4L1101.5,323.0L1103.0,322.7L1104.5,322.2L1106.0,321.6L1107.5,321.0L1109.0,320.4L1110.5,319.8L1112.0,319.0L1113.5,317.9L1115.0,316.2L1116.5,314.5L1118.0,313.0L1119.5,311.8L1121.0,310.6L1122.5,309.7L1124.0,309.0L1125.5,308.7L1127.0,308.6L1128.5,308.5L1130.0,308.4L1131.5,307.9L1133.0,307.3L1134.5,307.0L1136.0,307.7L1137.5,309.5L1139.0,310.8L1140.5,311.9L1142.0,312.9L1143.5,313.8L1145.0,314.4L1146.5,314.9L1148.0,315.3L1149.5,315.7L1151.0,315.9L1152.5,316.0L1152.5,355.0L1151.0,355.7L1149.5,357.2L1148.0,358.2L1146.5,358.4L1145.0,356.7L1143.5,354.4L1142.0,352.0L1140.5,349.1L1139.0,346.2L1137.5,344.8L1136.0,345.9L1134.5,347.6L1133.0,348.4L1131.5,348.9L1130.0,349.4L1128.5,350.6L1127.0,354.1L1125.5,357.5L1124.0,358.5L1122.5,359.2L1121.0,359.7L1119.5,360.1L1118.0,360.4L1116.5,360.6L1115.0,360.7L1113.5,360.8L1112.0,361.0L1110.5,361.7L1109.0,362.8L1107.5,363.7L1106.0,364.0L1104.5,363.7L1103.0,363.1L1101.5,362.5L1100.0,362.0L1098.5,361.5L1097.0,360.9L1095.5,360.3L1094.0,360.1L1092.5,360.2L1091.0,361.0L1089.5,362.5L1088.0,364.0L1086.5,365.5L1085.0,367.1L1083.5,368.5L1082.0,369.6L1080.5,370.4L1079.0,370.8L1077.5,371.0L1076.0,371.0L1074.5,370.7L1073.0,370.3L1071.5,369.8L1070.0,369.0L1068.5,368.2L1067.0,367.8L1065.5,368.2L1064.0,369.4L1062.5,371.3L1061.0,374.3L1059.5,378.5L1058.0,382.1L1056.5,384.8L1055.0,387.0L1053.5,388.4L1051.9,389.4L1050.4,390.0L1048.9,390.4L1047.4,390.4L1045.9,390.3L1044.4,390.1L1042.9,389.8L1041.4,389.4L1039.9,389.0L1038.4,388.3L1036.9,387.5L1035.4,386.6L1033.9,386.0L1032.4,385.9L1030.9,386.2L1029.4,386.4L1027.9,386.0L1026.4,384.9L1024.9,383.7L1023.4,382.5L1021.9,381.3L1020.4,380.0L1018.9,378.7L1017.4,377.6L1015.9,377.3L1014.4,377.2L1012.9,377.0L1011.4,375.5L1009.9,373.5L1008.4,373.2L1006.9,375.0L1005.4,377.6L1003.9,379.0L1002.4,379.1L1000.9,378.9L999.4,378.7L997.9,379.0L996.4,379.7L994.9,380.4L993.4,381.2L991.9,382.0L990.4,383.9L988.9,385.7L987.4,384.9L985.9,382.5L984.4,380.1L982.9,378.0L981.4,375.8L979.9,373.9L978.4,374.1L976.9,376.1L975.4,377.0L973.9,375.8L972.4,374.0L970.9,372.5L969.4,371.9L967.9,371.8L966.4,371.9L964.9,371.9L963.4,371.5L961.9,370.7L960.4,370.0L958.9,369.1L957.4,368.1L955.9,367.0L954.4,365.8L952.9,364.7L951.4,363.6L949.9,363.0L948.4,363.3L946.9,364.2L945.4,364.3L943.9,363.7L942.4,363.1L940.9,363.2L939.4,364.2L937.9,365.1L936.4,364.5L934.9,361.7L933.4,358.2L931.9,355.9L930.4,354.7L928.9,353.8L927.4,353.2L925.9,353.0L924.4,353.7L922.9,355.1L921.4,356.2L919.9,355.9L918.4,354.4L916.9,352.6L915.4,350.7L913.9,348.9L912.4,347.4L910.9,346.2L909.4,344.9L907.9,343.7L906.4,342.3L904.9,340.7L903.4,338.5L901.9,336.2L900.4,334.3L898.9,333.5L897.4,333.8L895.9,334.3L894.4,334.2L892.9,333.2L891.4,332.1L889.9,331.0L888.4,330.0L886.9,328.9L885.4,327.8L883.9,326.8L882.4,325.7L880.9,324.6L879.4,323.5L877.9,322.5L876.4,321.3L874.9,320.2L873.4,319.1L871.9,317.9L870.4,316.6L868.9,315.0L867.4,313.4L865.9,311.8L864.4,310.0L862.9,307.9L861.4,306.1L859.9,304.9L858.4,304.2L856.9,303.4L855.4,302.7L853.8,301.9L852.3,301.2L850.8,300.4L849.3,299.7L847.8,298.9L846.3,298.2L844.8,297.2L843.3,295.6L841.8,293.6L840.3,291.5L838.8,289.0L837.3,285.7L835.8,282.9L834.3,281.5L832.8,280.7L831.3,280.0L829.8,279.3L828.3,278.6L826.8,278.0L825.3,277.4L823.8,277.0L822.3,277.1L820.8,277.8L819.3,278.8L817.8,279.6L816.3,280.0L814.8,279.9L813.3,279.7L811.8,279.5L810.3,279.3L808.8,279.1L807.3,278.9L805.8,278.6L804.3,278.4L802.8,278.1L801.3,278.0L799.8,278.7L798.3,279.9L796.8,281.2L795.3,283.7L793.8,286.7L792.3,288.1L790.8,287.2L789.3,286.0L787.8,284.7L786.3,283.3L784.8,281.9L783.3,280.5L781.8,279.0L780.3,277.7L778.8,276.6L777.3,276.1L775.8,276.0L774.3,276.0L772.8,276.2L771.3,277.1L769.8,278.1L768.3,278.9L766.8,278.9L765.3,277.8L763.8,275.7L762.3,273.4L760.8,271.3L759.3,270.1L757.8,269.4L756.3,269.3L754.8,270.2L753.3,272.9L751.8,276.2L750.3,278.2L748.8,279.8L747.3,281.2L745.8,282.1L744.3,282.6L742.8,283.0L741.3,283.4L739.8,284.1L738.3,285.1L736.8,286.1L735.3,287.1L733.8,288.1L732.3,289.2L730.8,290.3L729.3,291.7L727.8,293.3L726.3,295.9L724.8,299.3L723.3,303.0L721.8,306.4L720.3,309.1L718.8,311.6L717.3,314.0L715.8,316.3L714.3,318.6L712.8,320.9L711.3,323.1L709.8,325.3L708.3,327.5L706.8,329.4L705.3,330.8L703.8,331.4L702.3,331.2L700.8,331.0L699.3,331.1L697.8,331.6L696.3,332.2L694.8,332.7L693.3,333.0L691.8,332.5L690.3,330.7L688.8,328.6L687.3,326.7L685.8,326.0L684.3,325.8L682.8,325.7L681.3,325.7L679.8,325.8L678.3,326.0L676.8,326.3L675.3,326.8L673.8,327.3L672.3,327.7L670.8,328.0L669.3,328.0L667.8,327.8L666.3,327.6L664.8,327.4L663.3,327.1L661.8,327.0L660.3,326.9L658.8,326.9L657.3,326.9L655.7,327.0L654.2,327.8L652.7,329.0L651.2,330.3L649.7,331.1L648.2,331.1L646.7,330.6L645.2,330.0L643.7,329.6L642.2,329.9L640.7,331.1L639.2,333.0L637.7,335.1L636.2,336.8L634.7,338.0L633.2,339.1L631.7,339.8L630.2,340.1L628.7,339.9L627.2,339.4L625.7,338.5L624.2,337.2L622.7,335.6L621.2,333.8L619.7,331.9L618.2,330.2L616.7,328.7L615.2,327.1L613.7,325.6L612.2,324.3L610.7,323.3L609.2,322.7L607.7,322.1L606.2,321.6L604.7,321.0L603.2,320.5L601.7,319.9L600.2,319.3L598.7,318.8L597.2,318.2L595.7,317.6L594.2,317.1L592.7,316.6L591.2,316.4L589.7,316.5L588.2,316.6L586.7,316.9L585.2,317.2L583.7,318.0L582.2,319.1L580.7,320.2L579.2,321.2L577.7,321.7L576.2,321.8L574.7,321.8L573.2,321.5L571.7,321.0L570.2,320.1L568.7,319.0L567.2,317.6L565.7,316.2L564.2,314.7L562.7,313.5L561.2,312.5L559.7,311.6L558.2,310.8L556.7,310.0L555.2,309.2L553.7,308.7L552.2,308.1L550.7,306.9L549.2,304.9L547.7,303.0L546.2,302.0L544.7,302.1L543.2,302.3L541.7,302.6L540.2,303.0L538.7,303.3L537.2,303.7L535.7,304.0L534.2,304.4L532.7,304.8L531.2,305.4L529.7,307.1L528.2,308.9L526.7,310.0L525.2,309.7L523.7,308.9L522.2,307.8L520.7,306.6L519.2,305.1L517.7,303.7L516.2,302.2L514.7,300.6L513.2,299.0L511.7,297.5L510.2,296.1L508.7,295.0L507.2,293.8L505.7,292.7L504.2,291.6L502.7,290.5L501.2,289.3L499.7,288.1L498.2,286.8L496.7,285.5L495.2,284.5L493.7,284.4L492.2,284.5L490.7,284.3L489.2,283.4L487.7,282.2L486.2,281.0L484.7,279.6L483.2,278.2L481.7,276.6L480.2,274.9L478.7,273.9L477.2,273.5L475.7,272.7L474.2,270.9L472.7,269.2L471.2,268.7L469.7,269.3L468.2,271.0L466.7,270.2L465.2,268.4L463.7,266.7L462.2,265.9L460.7,265.9L459.2,265.9L457.6,265.5L456.1,264.6L454.6,263.6L453.1,262.7L451.6,261.7L450.1,260.7L448.6,259.7L447.1,259.2L445.6,259.0L444.1,258.7L442.6,257.9L441.1,257.1L439.6,256.2L438.1,255.2L436.6,254.1L435.1,252.8L433.6,251.6L432.1,250.4L430.6,249.3L429.1,248.3L427.6,247.3L426.1,246.4L424.6,245.4L423.1,244.5L421.6,243.7L420.1,243.3L418.6,243.3L417.1,243.7L415.6,244.4L414.1,245.2L412.6,245.9L411.1,246.7L409.6,247.4L408.1,247.8L406.6,245.6L405.1,243.6L403.6,243.4L402.1,243.7L400.6,243.7L399.1,243.0L397.6,242.0L396.1,240.8L394.6,239.3L393.1,236.9L391.6,235.2L390.1,235.5L388.6,236.1L387.1,235.5L385.6,234.5L384.1,233.6L382.6,233.5L381.1,234.2L379.6,234.9L378.1,234.7L376.6,233.1L375.1,230.8L373.6,229.0L372.1,228.5L370.6,227.9L369.1,225.8L367.6,223.1L366.1,220.0L364.6,218.2L363.1,219.1L361.6,220.1L360.1,221.2L358.6,222.2L357.1,223.1L355.6,222.7L354.1,221.5L352.6,220.6L351.1,221.2L349.6,223.5L348.1,225.5L346.6,227.0L345.1,228.5L343.6,229.9L342.1,230.9L340.6,231.7L339.1,232.6L337.6,234.6L336.1,238.1L334.6,240.8L333.1,240.0L331.6,240.6L330.1,242.4L328.6,243.5L327.1,243.9L325.6,244.3L324.1,244.7L322.6,245.1L321.1,245.6L319.6,246.0L318.1,245.8L316.6,245.0L315.1,243.9L313.6,242.8L312.1,241.9L310.6,241.2L309.1,240.8L307.6,241.1L306.1,241.7L304.6,242.7L303.1,244.1L301.6,246.1L300.1,248.4L298.6,250.0L297.1,251.2L295.6,251.9L294.1,252.4L292.6,252.9L291.1,253.2L289.6,253.6L288.1,253.9L286.6,254.3L285.1,254.7L283.6,255.4L282.1,256.4L280.6,257.5L279.1,258.6L277.6,259.8L276.1,261.2L274.6,262.9L273.1,265.1L271.6,267.9L270.1,270.9L268.6,273.0L267.1,274.9L265.6,277.0L264.1,279.3L262.6,281.5L261.1,283.7L259.5,285.3L258.0,285.1L256.5,284.0L255.0,282.9L253.5,282.1L252.0,281.4L250.5,280.6L249.0,280.0L247.5,279.5L246.0,279.1L244.5,279.8L243.0,281.1L241.5,281.4L240.0,279.7L238.5,280.4L237.0,281.1L235.5,281.9L234.0,282.8L232.5,283.7L231.0,284.7L229.5,285.7L228.0,287.0L226.5,288.3L225.0,289.6L223.5,291.3L222.0,295.8L220.5,297.6L219.0,298.4L217.5,299.1L216.0,299.9L214.5,300.7L213.0,302.6L211.5,304.4L210.0,304.4L208.5,301.8L207.0,298.8L205.5,295.8L204.0,292.8L202.5,289.9L201.0,287.8L199.5,287.3L198.0,288.9L196.5,291.8L195.0,294.7L193.5,296.4L192.0,297.8L190.5,298.8L189.0,299.5L187.5,300.0L186.0,300.5L184.5,301.3L183.0,302.3L181.5,303.8L180.0,305.8L178.5,307.9L177.0,310.0L175.5,312.0L174.0,313.9L172.5,315.7L171.0,317.5L169.5,319.2L168.0,320.6L166.5,321.5L165.0,321.8L163.5,322.4L162.0,323.9L160.5,326.0Z" fill="#008000" fill-opacity="0.2" stroke="#008000" stroke-opacity="0.2" stroke-width="0.9" stroke-linejoin="round"/>
<path d="M160.5,311.0L162.0,311.8L163.5,312.6L165.0,313.4L166.5,314.3L168.0,315.4L169.5,316.5L171.0,317.2L172.5,315.9L174.0,312.1L175.5,309.0L177.0,306.7L178.5,304.1L180.0,300.6L181.5,297.1L183.0,293.6L184.5,290.1L186.0,286.6L187.5,281.7L189.0,277.6L190.5,276.3L192.0,275.6L193.5,275.0L195.0,274.5L196.5,274.0L198.0,273.3L199.5,272.2L201.0,270.7L202.5,268.7L204.0,266.4L205.5,264.0L207.0,261.4L208.5,259.0L210.0,256.9L211.5,255.2L213.0,253.7L214.4,252.4L215.9,251.2L217.4,250.0L218.9,249.1L220.4,249.3L221.9,250.9L223.4,253.1L224.9,255.6L226.4,257.3L227.9,256.6L229.4,255.3L230.9,253.9L232.4,252.7L233.9,251.3L235.4,250.0L236.9,248.2L238.4,246.5L239.9,246.1L241.4,247.1L242.9,247.1L244.4,246.4L245.9,245.1L247.4,243.3L248.9,241.4L250.4,239.1L251.9,236.7L253.4,234.3L254.9,231.9L256.4,229.5L257.9,227.3L259.4,225.6L260.9,224.8L262.4,224.6L263.9,224.3L265.4,224.2L266.9,224.1L268.4,223.9L269.9,222.9L271.4,221.2L272.9,219.5L274.4,218.7L275.9,218.6L277.4,219.7L278.9,221.4L280.4,222.8L281.9,223.5L283.4,223.7L284.9,223.2L286.4,221.7L287.9,219.3L289.4,215.6L290.9,212.0L292.4,209.3L293.9,207.2L295.4,206.1L296.9,205.4L298.4,204.8L299.9,204.2L301.4,203.7L302.9,203.3L304.4,202.8L305.9,202.4L307.4,201.9L308.9,201.5L310.4,201.0L311.9,200.6L313.4,200.1L314.9,198.8L316.4,196.0L317.9,194.1L319.4,193.0L320.9,191.8L322.4,190.5L323.8,189.4L325.3,188.9L326.8,188.7L328.3,188.5L329.8,188.4L331.3,188.2L332.8,188.1L334.3,187.9L335.8,187.7L337.3,187.5L338.8,186.4L340.3,184.7L341.8,183.7L343.3,181.7L344.8,177.4L346.3,172.9L347.8,168.4L349.3,163.9L350.8,159.4L352.3,155.3L353.8,151.9L355.3,148.6L356.8,145.0L358.3,142.3L359.8,140.9L361.3,140.1L362.8,139.1L364.3,137.9L365.8,136.7L367.3,135.6L368.8,135.4L370.3,135.7L371.8,136.6L373.3,137.8L374.8,138.7L376.3,138.6L377.8,137.8L379.3,136.9L380.8,136.7L382.3,138.1L383.8,139.0L385.3,138.2L386.8,137.9L388.3,137.6L389.8,137.3L391.3,137.0L392.8,136.8L394.3,136.6L395.8,137.0L397.3,138.9L398.8,137.9L400.3,134.1L401.8,127.3L403.3,123.6L404.8,121.7L406.3,120.6L407.8,120.0L409.3,119.5L410.8,119.3L412.3,119.2L413.8,119.4L415.3,120.1L416.8,121.2L418.3,122.7L419.8,124.5L421.3,126.3L422.8,126.5L424.3,127.5L425.8,130.1L427.3,132.3L428.8,134.0L430.2,135.0L430.2,185.6L428.8,184.6L427.3,183.6L425.8,182.6L424.3,181.6L422.8,181.1L421.3,181.8L419.8,181.8L418.3,181.0L416.8,179.8L415.3,178.4L413.8,176.9L412.3,175.4L410.8,174.1L409.3,173.8L407.8,174.8L406.3,176.0L404.8,177.3L403.3,178.5L401.8,179.8L400.3,181.0L398.8,182.2L397.3,183.2L395.8,182.6L394.3,182.9L392.8,184.0L391.3,185.0L389.8,185.8L388.3,186.3L386.8,185.4L385.3,184.4L383.8,184.4L382.3,184.7L380.8,185.2L379.3,186.5L377.8,186.7L376.3,185.6L374.8,184.2L373.3,182.7L371.8,181.2L370.3,179.6L368.8,178.2L367.3,178.2L365.8,179.4L364.3,180.8L362.8,181.9L361.3,182.9L359.8,184.0L358.3,185.6L356.8,188.8L355.3,191.7L353.8,194.3L352.3,196.2L350.8,198.1L349.3,200.2L347.8,202.9L346.3,206.3L344.8,209.8L343.3,213.6L341.8,217.5L340.3,221.0L338.8,223.3L337.3,224.5L335.8,225.2L334.3,225.5L332.8,225.8L331.3,226.6L329.8,227.8L328.3,229.2L326.8,230.7L325.3,232.0L323.8,233.1L322.4,234.3L320.9,235.4L319.4,236.5L317.9,237.4L316.4,238.4L314.9,241.6L313.4,243.5L311.9,243.0L310.4,242.3L308.9,242.2L307.4,242.1L305.9,242.1L304.4,242.4L302.9,242.9L301.4,244.0L299.9,245.7L298.4,247.5L296.9,249.1L295.4,250.6L293.9,252.8L292.4,254.8L290.9,255.8L289.4,256.8L287.9,257.7L286.4,258.5L284.9,259.4L283.4,260.2L281.9,260.5L280.4,259.9L278.9,259.2L277.4,259.2L275.9,259.7L274.4,260.3L272.9,260.9L271.4,261.3L269.9,261.6L268.4,261.2L266.9,260.4L265.4,260.5L263.9,261.0L262.4,261.7L260.9,262.5L259.4,263.4L257.9,264.4L256.4,265.8L254.9,267.3L253.4,268.9L251.9,270.2L250.4,271.4L248.9,272.4L247.4,273.6L245.9,275.1L244.4,276.7L242.9,277.6L241.4,277.7L239.9,277.9L238.4,278.6L236.9,279.7L235.4,281.4L233.9,283.8L232.4,286.1L230.9,288.0L229.4,289.5L227.9,290.4L226.4,290.0L224.9,288.7L223.4,287.5L221.9,287.3L220.4,287.4L218.9,287.7L217.4,288.5L215.9,289.7L214.4,291.0L213.0,292.4L211.5,294.0L210.0,295.6L208.5,297.3L207.0,299.2L205.5,301.4L204.0,303.8L202.5,306.7L201.0,309.6L199.5,311.9L198.0,313.7L196.5,314.8L195.0,315.2L193.5,315.5L192.0,316.4L190.5,317.8L189.0,320.4L187.5,324.6L186.0,329.2L184.5,333.4L183.0,337.5L181.5,341.6L180.0,346.6L178.5,351.9L177.0,356.3L175.5,358.9L174.0,359.4L172.5,358.7L171.0,357.6L169.5,356.5L168.0,355.2L166.5,353.8L165.0,352.2L163.5,350.8L162.0,350.5L160.5,351.0Z" fill="#ff0000" fill-opacity="0.2" stroke="#ff0000" stroke-opacity="0.2" stroke-width="0.9" stroke-linejoin="round"/>
<path d="M160.5,279.5L162.0,279.1L163.5,278.6L165.0,278.1L166.5,277.6L168.0,277.0L169.5,276.4L171.0,275.8L172.5,275.2L174.0,274.5L175.5,273.7L177.0,272.8L178.5,271.8L180.0,270.7L181.5,269.5L183.0,268.2L184.5,266.7L186.0,265.2L187.5,263.7L189.0,262.2L190.5,260.7L192.0,259.2L193.5,257.7L195.0,256.2L196.5,254.7L198.0,253.2L199.5,251.7L201.0,250.3L202.5,249.2L204.0,248.3L205.5,247.5L207.0,246.6L208.5,245.5L210.0,244.4L211.5,243.3L213.0,242.0L214.5,240.4L216.0,238.6L217.5,236.7L219.0,234.8L220.5,233.2L222.0,231.5L223.5,229.9L225.0,228.5L226.5,227.4L228.0,226.8L229.5,226.5L231.0,226.4L232.5,226.3L234.0,226.3L235.5,226.2L237.0,226.3L238.5,226.4L240.0,226.5L241.5,226.4L243.0,226.1L244.5,225.7L246.0,225.2L247.5,224.6L249.0,224.1L250.5,223.6L252.0,223.0L253.5,222.5L255.0,221.9L256.5,221.3L258.0,220.8L259.5,220.2L261.1,219.5L262.6,218.8L264.1,217.8L265.6,216.7L267.1,215.4L268.6,213.9L270.1,212.2L271.6,210.3L273.1,208.5L274.6,206.7L276.1,205.1L277.6,203.4L279.1,201.8L280.6,200.3L282.1,199.1L283.6,198.1L285.1,197.3L286.6,196.7L288.1,196.2L289.6,195.7L291.1,195.2L292.6,195.0L294.1,194.7L295.6,194.2L297.1,193.2L298.6,192.0L300.1,190.8L301.6,189.5L303.1,188.3L304.6,187.0L306.1,185.7L307.6,184.5L309.1,183.2L310.6,182.1L312.1,181.5L313.6,181.4L315.1,181.5L316.6,181.7L318.1,181.7L319.6,181.4L321.1,180.7L322.6,180.0L324.1,179.2L325.6,178.4L327.1,177.7L328.6,177.0L330.1,176.3L331.6,175.7L333.1,175.2L334.6,174.9L336.1,175.0L337.6,175.3L339.1,175.7L340.6,176.3L342.1,176.8L343.6,176.7L345.1,176.0L346.6,175.2L348.1,174.5L349.6,174.4L351.1,174.3L352.6,174.4L354.1,174.4L355.6,174.4L357.1,174.4L358.6,174.3L360.1,174.2L361.6,174.1L363.1,173.9L364.6,173.5L366.1,172.9L367.6,172.2L369.1,171.6L370.6,171.1L372.1,170.7L373.6,170.6L375.1,170.6L376.6,171.0L378.1,171.4L379.6,171.8L381.1,172.1L382.6,172.3L384.1,172.4L385.6,172.5L387.1,172.4L388.6,172.2L390.1,171.8L391.6,171.3L393.1,170.7L394.6,170.1L396.1,169.7L397.6,169.4L399.1,169.1L400.6,168.9L402.1,168.8L403.6,168.9L405.1,169.0L406.6,169.3L408.1,169.6L409.6,169.9L411.1,170.3L412.6,170.7L414.1,171.1L415.6,171.4L417.1,171.6L418.6,171.7L420.1,171.9L421.6,172.3L423.1,172.7L424.6,173.1L426.1,173.2L427.6,173.1L429.1,173.1L430.6,173.2L432.1,173.6L433.6,174.2L435.1,174.9L436.6,175.7L438.1,176.7L439.6,177.6L441.1,178.5L442.6,179.5L444.1,180.4L445.6,181.3L447.1,182.3L448.6,183.2L450.1,184.2L451.6,185.1L453.1,185.8L454.6,186.1L456.1,185.8L457.6,185.6L459.2,185.5L460.7,185.4L462.2,185.4L463.7,185.6L465.2,186.0L466.7,186.4L468.2,186.9L469.7,187.4L471.2,187.8L472.7,188.1L474.2,188.5L475.7,188.9L477.2,189.2L478.7,189.7L480.2,190.8L481.7,192.2L483.2,193.9L484.7,195.6L486.2,197.3L487.7,198.9L489.2,200.5L490.7,202.0L492.2,203.5L493.7,205.0L495.2,206.4L496.7,207.5L498.2,208.3L499.7,208.9L501.2,209.5L502.7,210.0L504.2,210.7L505.7,211.7L507.2,213.1L508.7,214.7L510.2,216.3L511.7,217.9L513.2,219.1L514.7,219.9L516.2,220.3L517.7,220.7L519.2,221.0L520.7,221.4L522.2,221.8L523.7,222.2L525.2,222.5L526.7,222.9L528.2,223.3L529.7,223.7L531.2,224.0L532.7,224.4L534.2,224.8L535.7,225.2L537.2,225.9L538.7,226.8L540.2,227.8L541.7,228.9L543.2,230.0L544.7,231.1L546.2,232.0L547.7,232.9L549.2,233.7L550.7,234.6L552.2,235.3L553.7,235.8L555.2,235.6L556.7,235.1L558.2,234.6L559.7,234.5L561.2,234.8L562.7,235.5L564.2,236.3L565.7,237.0L567.2,237.5L568.7,237.6L570.2,237.4L571.7,237.2L573.2,236.9L574.7,236.8L576.2,236.8L577.7,237.1L579.2,237.5L580.7,237.9L582.2,238.4L583.7,238.8L585.2,239.3L586.7,239.8L588.2,240.2L589.7,240.7L591.2,241.2L592.7,241.7L594.2,242.2L595.7,242.8L597.2,243.9L598.7,245.2L600.2,246.7L601.7,248.1L603.2,249.3L604.7,250.4L606.2,251.3L607.7,252.1L609.2,252.6L610.7,252.0L612.2,250.7L613.7,249.1L615.2,247.8L616.7,247.5L618.2,247.8L619.7,248.3L621.2,249.1L622.7,249.8L624.2,250.4L625.7,250.7L627.2,250.6L628.7,250.1L630.2,249.6L631.7,249.0L633.2,248.5L634.7,247.9L636.2,247.4L637.7,246.9L639.2,246.5L640.7,246.1L642.2,245.7L643.7,245.3L645.2,244.9L646.7,244.8L648.2,244.9L649.7,245.1L651.2,245.2L652.7,244.9L654.2,242.1L655.7,241.1L657.3,240.9L658.8,240.7L660.3,240.6L661.8,240.5L663.3,240.3L664.8,240.1L666.3,239.7L667.8,239.3L669.3,238.9L670.8,238.5L672.3,238.1L673.8,237.8L675.3,237.4L676.8,237.2L678.3,237.1L679.8,236.9L681.3,236.8L682.8,236.6L684.3,236.4L685.8,236.1L687.3,235.6L688.8,235.1L690.3,234.5L691.8,234.0L693.3,233.5L694.8,233.1L696.3,232.7L697.8,232.4L699.3,232.1L700.8,231.8L702.3,231.5L703.8,231.2L705.3,230.9L706.8,230.6L708.3,230.4L709.8,230.1L711.3,229.8L712.8,229.6L714.3,229.3L715.8,229.1L717.3,228.8L718.8,228.3L720.3,227.3L721.8,225.9L723.3,224.3L724.8,222.4L726.3,220.3L727.8,218.1L729.3,215.9L730.8,214.0L732.3,212.0L733.8,210.2L735.3,208.6L736.8,207.4L738.3,206.7L739.8,206.4L741.3,206.4L742.8,206.4L744.3,206.4L745.8,206.1L747.3,205.6L748.8,205.1L750.3,204.7L751.8,204.5L753.3,204.9L754.8,205.7L756.3,206.6L757.8,207.5L759.3,208.0L760.8,207.9L762.3,207.8L763.8,207.7L765.3,207.6L766.8,207.4L768.3,207.2L769.8,207.0L771.3,206.8L772.8,206.6L774.3,206.4L775.8,206.1L777.3,205.9L778.8,205.7L780.3,205.5L781.8,205.2L783.3,205.0L784.8,204.7L786.3,204.5L787.8,204.3L789.3,204.0L790.8,203.8L792.3,203.7L793.8,203.8L795.3,204.1L796.8,204.5L798.3,205.0L799.8,205.4L801.3,205.9L802.8,206.3L804.3,206.7L805.8,207.1L807.3,207.6L808.8,208.2L810.3,208.9L811.8,209.7L813.3,210.4L814.8,211.2L816.3,211.9L817.8,212.7L819.3,213.4L820.8,214.2L822.3,214.9L823.8,215.7L825.3,216.4L826.8,217.2L828.3,217.9L829.8,218.7L831.3,219.4L832.8,220.2L834.3,221.1L835.8,222.2L837.3,223.4L838.8,224.6L840.3,225.9L841.8,227.0L843.3,228.1L844.8,229.1L846.3,230.1L847.8,231.1L849.3,232.0L850.8,232.9L852.3,233.7L853.8,234.4L855.4,235.0L856.9,235.7L858.4,236.3L859.9,236.9L861.4,237.5L862.9,238.2L864.4,238.9L865.9,239.7L867.4,240.4L868.9,241.2L870.4,242.0L871.9,242.7L873.4,243.4L874.9,243.9L876.4,244.3L877.9,244.7L879.4,245.2L880.9,245.6L882.4,246.2L883.9,246.9L885.4,247.6L886.9,248.3L888.4,249.1L889.9,249.8L891.4,250.6L892.9,251.4L894.4,252.2L895.9,253.0L897.4,253.9L898.9,254.8L900.4,255.8L901.9,257.0L903.4,258.3L904.9,259.7L906.4,261.2L907.9,262.8L909.4,264.3L910.9,265.9L912.4,267.4L913.9,268.9L915.4,270.3L916.9,271.8L918.4,273.2L919.9,274.6L921.4,276.0L922.9,277.3L924.4,278.1L925.9,278.5L927.4,278.7L928.9,279.0L930.4,279.7L931.9,280.8L933.4,282.1L934.9,283.3L936.4,284.4L937.9,285.2L939.4,285.8L940.9,286.4L942.4,286.9L943.9,287.4L945.4,287.8L946.9,288.2L948.4,288.5L949.9,288.8L951.4,289.1L952.9,289.3L954.4,289.5L955.9,289.7L957.4,289.9L958.9,290.1L960.4,290.1L961.9,290.0L963.4,290.0L964.9,289.9L966.4,290.0L967.9,290.3L969.4,290.8L970.9,291.4L972.4,292.2L973.9,293.3L975.4,294.5L976.9,295.9L978.4,297.4L979.9,299.1L981.4,300.9L982.9,302.9L984.4,305.5L985.9,308.8L987.4,311.6L988.9,313.3L990.4,314.5L991.9,315.4L993.4,316.2L994.9,317.0L996.4,317.6L997.9,318.0L999.4,317.8L1000.9,317.2L1002.4,316.6L1003.9,316.4L1005.4,316.7L1006.9,317.1L1008.4,317.5L1009.9,317.8L1011.4,318.1L1012.9,318.3L1014.4,318.4L1015.9,318.0L1017.4,317.3L1018.9,316.5L1020.4,315.8L1021.9,314.8L1023.4,313.7L1024.9,313.0L1026.4,313.1L1027.9,313.7L1029.4,314.3L1030.9,314.5L1032.4,314.8L1033.9,314.9L1035.4,314.6L1036.9,313.9L1038.4,313.1L1039.9,312.2L1041.4,311.3L1042.9,310.4L1044.4,309.5L1045.9,308.5L1047.4,307.7L1048.9,307.1L1050.4,307.2L1051.9,307.7L1053.5,308.1L1055.0,308.5L1056.5,308.9L1058.0,309.3L1059.5,309.8L1061.0,310.4L1062.5,311.2L1064.0,312.0L1065.5,312.8L1067.0,313.3L1068.5,313.6L1070.0,313.5L1071.5,313.3L1073.0,312.9L1074.5,312.5L1076.0,312.0L1077.5,311.5L1079.0,310.9L1080.5,310.4L1082.0,309.8L1083.5,309.2L1085.0,308.6L1086.5,308.0L1088.0,307.4L1089.5,306.8L1091.0,306.3L1092.5,306.0L1094.0,305.8L1095.5,305.5L1097.0,305.0L1098.5,304.1L1100.0,303.1L1101.5,302.0L1103.0,301.0L1104.5,300.0L1106.0,299.0L1107.5,298.0L1109.0,297.0L1110.5,296.4L1112.0,296.0L1113.5,295.6L1115.0,295.0L1116.5,294.4L1118.0,293.8L1119.5,293.2L1121.0,292.6L1122.5,292.0L1124.0,291.3L1125.5,290.4L1127.0,289.1L1128.5,287.6L1130.0,286.0L1131.5,284.6L1133.0,283.2L1134.5,282.0L1136.0,281.0L1137.5,280.2L1139.0,279.6L1140.5,279.0L1142.0,278.4L1143.5,277.8L1145.0,277.1L1146.5,276.3L1148.0,275.5L1149.5,274.7L1151.0,273.7L1152.5,272.8L1152.5,609.0L1151.0,609.2L1149.5,609.6L1148.0,610.2L1146.5,610.9L1145.0,611.7L1143.5,612.7L1142.0,613.8L1140.5,615.1L1139.0,616.5L1137.5,618.1L1136.0,619.8L1134.5,621.5L1133.0,623.0L1131.5,624.4L1130.0,625.7L1128.5,626.9L1127.0,628.0L1125.5,628.9L1124.0,629.8L1122.5,630.5L1121.0,631.1L1119.5,631.6L1118.0,632.1L1116.5,632.6L1115.0,633.3L1113.5,634.4L1112.0,635.8L1110.5,637.3L1109.0,638.2L1107.5,638.2L1106.0,637.4L1104.5,636.4L1103.0,635.8L1101.5,635.8L1100.0,635.8L1098.5,635.8L1097.0,635.9L1095.5,635.9L1094.0,636.1L1092.5,636.3L1091.0,636.5L1089.5,636.7L1088.0,636.9L1086.5,637.2L1085.0,637.5L1083.5,637.8L1082.0,638.1L1080.5,638.6L1079.0,639.0L1077.5,639.6L1076.0,640.3L1074.5,641.0L1073.0,641.9L1071.5,642.9L1070.0,643.8L1068.5,644.7L1067.0,645.4L1065.5,646.1L1064.0,646.8L1062.5,647.5L1061.0,648.2L1059.5,649.1L1058.0,650.0L1056.5,651.0L1055.0,652.1L1053.5,653.1L1051.9,654.1L1050.4,655.1L1048.9,656.0L1047.4,656.5L1045.9,656.7L1044.4,656.5L1042.9,656.0L1041.4,655.5L1039.9,655.0L1038.4,654.5L1036.9,653.9L1035.4,653.3L1033.9,652.7L1032.4,652.1L1030.9,651.7L1029.4,651.6L1027.9,651.8L1026.4,651.8L1024.9,651.2L1023.4,650.3L1021.9,649.4L1020.4,648.5L1018.9,647.6L1017.4,646.7L1015.9,645.8L1014.4,644.9L1012.9,644.0L1011.4,643.3L1009.9,643.3L1008.4,643.7L1006.9,644.2L1005.4,644.3L1003.9,643.9L1002.4,642.9L1000.9,641.6L999.4,640.5L997.9,639.6L996.4,639.5L994.9,639.9L993.4,640.3L991.9,640.8L990.4,641.4L988.9,641.9L987.4,642.7L985.9,643.7L984.4,644.5L982.9,644.6L981.4,644.0L979.9,643.4L978.4,642.7L976.9,642.1L975.4,641.4L973.9,640.8L972.4,640.1L970.9,639.5L969.4,638.8L967.9,638.2L966.4,637.6L964.9,637.3L963.4,637.1L961.9,636.9L960.4,636.4L958.9,635.7L957.4,635.0L955.9,634.2L954.4,633.5L952.9,632.7L951.4,631.9L949.9,631.2L948.4,630.4L946.9,629.7L945.4,628.9L943.9,628.2L942.4,627.4L940.9,626.7L939.4,626.0L937.9,625.3L936.4,624.7L934.9,624.1L933.4,623.5L931.9,622.8L930.4,621.9L928.9,620.3L927.4,618.2L925.9,616.0L924.4,614.0L922.9,612.7L921.4,612.0L919.9,611.4L918.4,610.9L916.9,610.3L915.4,609.8L913.9,609.2L912.4,608.7L910.9,608.2L909.4,607.7L907.9,607.2L906.4,606.7L904.9,606.2L903.4,605.6L901.9,605.0L900.4,604.2L898.9,603.4L897.4,602.5L895.9,601.5L894.4,600.2L892.9,598.8L891.4,597.3L889.9,595.9L888.4,594.7L886.9,593.7L885.4,592.8L883.9,592.0L882.4,591.2L880.9,590.4L879.4,589.7L877.9,589.2L876.4,588.7L874.9,588.3L873.4,587.8L871.9,587.3L870.4,586.6L868.9,585.7L867.4,584.8L865.9,583.7L864.4,582.6L862.9,581.4L861.4,580.1L859.9,578.6L858.4,576.8L856.9,574.8L855.4,572.9L853.8,571.2L852.3,569.9L850.8,569.0L849.3,568.2L847.8,567.6L846.3,566.9L844.8,566.3L843.3,565.5L841.8,564.6L840.3,563.5L838.8,562.3L837.3,561.1L835.8,560.0L834.3,559.1L832.8,558.3L831.3,557.7L829.8,557.2L828.3,556.9L826.8,556.9L825.3,556.9L823.8,557.0L822.3,557.0L820.8,556.5L819.3,555.6L817.8,555.2L816.3,555.7L814.8,557.0L813.3,558.2L811.8,559.5L810.3,560.8L808.8,562.1L807.3,563.3L805.8,564.6L804.3,565.5L802.8,566.1L801.3,566.6L799.8,567.1L798.3,567.6L796.8,568.1L795.3,568.6L793.8,569.1L792.3,569.6L790.8,569.9L789.3,570.2L787.8,570.4L786.3,570.6L784.8,570.7L783.3,570.7L781.8,570.2L780.3,569.3L778.8,568.3L777.3,567.5L775.8,567.2L774.3,567.8L772.8,568.6L771.3,569.3L769.8,570.1L768.3,570.8L766.8,571.6L765.3,572.3L763.8,573.1L762.3,573.8L760.8,574.6L759.3,575.4L757.8,576.9L756.3,578.8L754.8,580.8L753.3,582.6L751.8,583.7L750.3,584.6L748.8,585.2L747.3,585.6L745.8,585.7L744.3,585.6L742.8,585.2L741.3,584.7L739.8,583.8L738.3,582.7L736.8,581.3L735.3,579.5L733.8,577.7L732.3,576.0L730.8,574.6L729.3,573.5L727.8,573.3L726.3,574.2L724.8,575.3L723.3,575.8L721.8,575.4L720.3,574.9L718.8,575.0L717.3,576.2L715.8,577.7L714.3,578.6L712.8,579.2L711.3,579.9L709.8,580.6L708.3,581.7L706.8,582.8L705.3,583.7L703.8,584.0L702.3,584.2L700.8,584.4L699.3,584.6L697.8,584.9L696.3,585.2L694.8,585.5L693.3,586.0L691.8,586.6L690.3,587.5L688.8,588.6L687.3,589.7L685.8,590.9L684.3,592.1L682.8,593.3L681.3,594.5L679.8,595.7L678.3,596.6L676.8,597.1L675.3,597.5L673.8,597.5L672.3,597.1L670.8,596.5L669.3,595.8L667.8,595.3L666.3,595.0L664.8,595.2L663.3,595.6L661.8,596.2L660.3,596.7L658.8,597.0L657.3,596.7L655.7,595.7L654.2,593.8L652.7,589.9L651.2,587.5L649.7,587.5L648.2,588.0L646.7,588.6L645.2,589.1L643.7,589.2L642.2,589.2L640.7,589.1L639.2,589.0L637.7,588.8L636.2,588.4L634.7,587.7L633.2,586.9L631.7,586.2L630.2,585.8L628.7,586.2L627.2,587.6L625.7,588.9L624.2,589.5L622.7,589.8L621.2,589.9L619.7,589.6L618.2,589.0L616.7,588.0L615.2,586.9L613.7,585.8L612.2,584.8L610.7,583.9L609.2,583.1L607.7,582.6L606.2,582.6L604.7,583.4L603.2,584.6L601.7,585.9L600.2,586.9L598.7,587.6L597.2,588.2L595.7,588.7L594.2,588.7L592.7,588.4L591.2,587.7L589.7,586.8L588.2,585.7L586.7,584.5L585.2,583.3L583.7,582.1L582.2,581.1L580.7,580.4L579.2,579.8L577.7,578.9L576.2,577.5L574.7,575.7L573.2,573.7L571.7,571.6L570.2,569.6L568.7,567.6L567.2,565.9L565.7,564.4L564.2,562.9L562.7,561.5L561.2,560.0L559.7,558.4L558.2,556.5L556.7,554.4L555.2,552.3L553.7,550.4L552.2,549.1L550.7,548.1L549.2,547.5L547.7,547.0L546.2,546.9L544.7,547.2L543.2,547.7L541.7,548.3L540.2,548.8L538.7,549.1L537.2,549.1L535.7,548.5L534.2,547.5L532.7,546.3L531.2,545.2L529.7,544.4L528.2,543.8L526.7,543.2L525.2,542.6L523.7,541.7L522.2,540.6L520.7,539.3L519.2,538.1L517.7,536.8L516.2,535.7L514.7,534.8L513.2,534.3L511.7,534.0L510.2,533.8L508.7,533.7L507.2,534.1L505.7,534.8L504.2,535.4L502.7,535.4L501.2,534.7L499.7,533.3L498.2,531.7L496.7,530.3L495.2,529.5L493.7,529.5L492.2,529.7L490.7,530.2L489.2,530.6L487.7,530.9L486.2,530.7L484.7,530.2L483.2,529.4L481.7,528.6L480.2,528.0L478.7,528.0L477.2,528.2L475.7,527.7L474.2,526.8L472.7,525.8L471.2,525.0L469.7,524.5L468.2,524.1L466.7,523.7L465.2,523.1L463.7,522.3L462.2,521.3L460.7,520.4L459.2,519.5L457.6,518.6L456.1,517.8L454.6,517.0L453.1,516.4L451.6,516.1L450.1,516.2L448.6,516.6L447.1,517.1L445.6,517.4L444.1,517.6L442.6,517.8L441.1,518.1L439.6,518.1L438.1,517.8L436.6,517.1L435.1,515.7L433.6,514.3L432.1,512.7L430.6,511.1L429.1,509.7L427.6,508.2L426.1,506.8L424.6,505.5L423.1,504.8L421.6,504.5L420.1,504.3L418.6,503.7L417.1,502.8L415.6,501.9L414.1,500.9L412.6,500.1L411.1,499.3L409.6,498.6L408.1,497.9L406.6,497.2L405.1,496.5L403.6,496.1L402.1,495.7L400.6,495.2L399.1,494.7L397.6,493.7L396.1,492.3L394.6,491.0L393.1,490.2L391.6,489.6L390.1,489.0L388.6,488.4L387.1,487.8L385.6,487.2L384.1,486.6L382.6,486.0L381.1,485.4L379.6,484.9L378.1,484.6L376.6,484.6L375.1,485.0L373.6,485.6L372.1,486.5L370.6,487.6L369.1,488.4L367.6,489.0L366.1,489.5L364.6,490.1L363.1,490.9L361.6,491.9L360.1,493.2L358.6,494.7L357.1,496.1L355.6,497.5L354.1,498.7L352.6,499.8L351.1,500.9L349.6,501.9L348.1,502.9L346.6,503.7L345.1,504.2L343.6,504.6L342.1,505.2L340.6,506.4L339.1,507.8L337.6,509.3L336.1,510.4L334.6,510.7L333.1,510.1L331.6,509.0L330.1,508.3L328.6,507.9L327.1,507.6L325.6,507.3L324.1,507.1L322.6,507.0L321.1,506.9L319.6,507.1L318.1,507.4L316.6,507.8L315.1,508.2L313.6,508.6L312.1,508.8L310.6,508.9L309.1,508.9L307.6,508.9L306.1,508.9L304.6,508.8L303.1,508.8L301.6,508.7L300.1,508.3L298.6,507.9L297.1,507.6L295.6,507.5L294.1,507.8L292.6,508.9L291.1,510.4L289.6,512.0L288.1,513.4L286.6,514.3L285.1,515.1L283.6,515.8L282.1,516.4L280.6,517.0L279.1,517.4L277.6,517.6L276.1,517.2L274.6,516.6L273.1,516.0L271.6,515.6L270.1,515.7L268.6,516.5L267.1,517.6L265.6,519.3L264.1,521.3L262.6,523.4L261.1,525.6L259.5,527.7L258.0,529.7L256.5,531.7L255.0,533.7L253.5,535.7L252.0,537.7L250.5,539.7L249.0,541.5L247.5,543.4L246.0,545.2L244.5,547.0L243.0,548.9L241.5,550.8L240.0,552.8L238.5,554.8L237.0,556.9L235.5,559.4L234.0,562.1L232.5,564.4L231.0,566.3L229.5,567.8L228.0,569.0L226.5,569.9L225.0,570.5L223.5,571.0L222.0,571.4L220.5,571.7L219.0,571.8L217.5,571.5L216.0,571.1L214.5,570.8L213.0,570.9L211.5,571.6L210.0,572.9L208.5,574.6L207.0,575.9L205.5,577.1L204.0,578.3L202.5,579.3L201.0,580.1L199.5,580.7L198.0,581.1L196.5,581.5L195.0,581.8L193.5,582.2L192.0,582.7L190.5,583.4L189.0,584.2L187.5,585.0L186.0,585.5L184.5,584.9L183.0,583.5L181.5,582.5L180.0,582.6L178.5,583.0L177.0,583.9L175.5,585.2L174.0,586.8L172.5,588.4L171.0,590.3L169.5,592.3L168.0,594.3L166.5,596.5L165.0,598.7L163.5,601.3L162.0,604.0L160.5,607.0Z" fill="#808080" fill-opacity="0.2" stroke="#808080" stroke-opacity="0.2" stroke-width="0.9" stroke-linejoin="round"/>
<path d="M243.62,92.5V683.5M319.93,92.5V683.5M404.41,92.5V683.5M486.17,92.5V683.5M570.65,92.5V683.5M652.41,92.5V683.5M736.90,92.5V683.5M821.38,92.5V683.5M903.14,92.5V683.5M987.62,92.5V683.5M1069.38,92.5V683.5M160.5,142.25H1152.5M160.5,217.82H1152.5M160.5,293.39H1152.5M160.5,368.97H1152.5M160.5,444.54H1152.5M160.5,520.11H1152.5M160.5,595.68H1152.5M160.5,671.25H1152.5" stroke="#b0b0b0" stroke-width="0.5" stroke-dasharray="1.64 0.71" fill="none"/>
<path d="M160.5,333.8L161.7,335.8L162.9,337.2L164.1,337.6L165.3,337.0L166.5,335.6L167.7,333.6L168.9,330.6L170.1,327.0L171.3,323.3L172.5,319.8L173.7,316.4L174.9,313.1L176.1,310.1L177.3,307.7L178.5,306.1L179.7,305.2L180.9,304.4L182.1,303.7L183.3,303.1L184.5,302.6L185.7,302.1L186.9,301.6L188.1,301.2L189.3,300.7L190.5,300.1L191.7,299.0L192.9,297.7L194.1,296.5L195.3,295.8L196.5,295.7L197.7,295.6L198.9,295.5L200.1,295.5L201.3,295.4L202.5,295.3L203.7,295.3L204.9,295.3L206.1,295.2L207.3,295.0L208.5,294.4L209.7,292.9L210.9,291.0L212.1,289.1L213.3,287.5L214.5,286.1L215.7,284.6L216.9,283.1L218.1,281.4L219.3,279.4L220.5,277.3L221.7,275.3L222.9,273.5L224.1,271.8L225.3,270.3L226.5,269.1L227.7,268.4L228.9,268.1L230.1,268.2L231.3,268.6L232.5,269.4L233.7,270.4L234.9,271.6L236.1,272.6L237.3,273.3L238.5,273.7L239.7,274.2L240.9,274.8L242.1,275.6L243.3,276.5L244.5,277.4L245.7,278.3L246.9,279.2L248.1,280.0L249.3,280.8L250.5,281.5L251.7,282.1L252.9,282.3L254.1,282.2L255.3,281.8L256.5,281.4L257.7,280.9L258.9,280.3L260.1,279.3L261.3,278.1L262.5,276.8L263.7,275.4L264.9,274.0L266.1,272.6L267.3,271.0L268.5,269.0L269.7,266.5L270.9,263.5L272.1,260.4L273.3,257.2L274.5,254.0L275.7,250.8L276.9,247.6L278.1,244.4L279.3,241.4L280.5,240.1L281.7,239.7L282.9,239.7L284.1,239.2L285.2,238.0L286.4,236.6L287.6,235.5L288.8,234.7L290.0,234.6L291.2,235.8L292.4,237.8L293.6,239.9L294.8,241.4L296.0,242.9L297.2,244.0L298.4,244.0L299.6,244.6L300.8,246.1L302.0,247.6L303.2,249.0L304.4,250.3L305.6,251.2L306.8,251.1L308.0,250.4L309.2,249.4L310.4,248.4L311.6,247.4L312.8,246.5L314.0,245.4L315.2,244.1L316.4,241.9L317.6,239.5L318.8,237.9L320.0,236.7L321.2,235.6L322.4,234.7L323.6,233.7L324.8,232.4L326.0,230.8L327.2,228.6L328.4,226.5L329.6,224.6L330.8,222.9L332.0,221.5L333.2,220.7L334.4,220.2L335.6,220.0L336.8,219.9L338.0,219.9L339.2,219.5L340.4,218.8L341.6,218.1L342.8,217.4L344.0,216.8L345.2,216.3L346.4,215.8L347.6,215.3L348.8,215.1L350.0,214.9L351.2,214.5L352.4,213.8L353.6,213.0L354.8,212.2L356.0,211.3L357.2,210.3L358.4,209.3L359.6,208.5L360.8,207.9L362.0,207.6L363.2,207.4L364.4,207.1L365.6,206.9L366.8,206.7L368.0,206.6L369.2,206.8L370.4,207.6L371.6,209.0L372.8,210.8L374.0,212.6L375.2,214.4L376.4,216.2L377.6,217.9L378.8,219.0L380.0,218.9L381.2,218.5L382.4,218.1L383.6,217.4L384.8,217.0L386.0,217.1L387.2,217.9L388.4,218.8L389.6,219.9L390.8,221.2L392.0,222.0L393.2,221.6L394.4,220.6L395.6,220.3L396.8,220.0L398.0,219.9L399.2,219.8L400.4,219.8L401.6,219.8L402.8,220.0L404.0,220.4L405.2,221.1L406.4,222.3L407.6,223.6L408.8,224.8L410.0,225.7L411.2,226.6L412.4,227.4L413.6,228.1L414.8,228.6L416.0,228.8L417.2,228.4L418.4,227.6L419.6,226.8L420.8,226.3L422.0,226.0L423.2,225.9L424.4,226.4L425.6,228.1L426.8,229.0L428.0,229.2L429.2,228.3L430.4,226.8L431.6,225.2L432.8,223.8L434.0,222.4L435.2,221.1L436.4,220.3L437.6,220.3L438.8,220.5L440.0,220.4L441.2,219.7L442.4,218.9L443.6,218.3L444.8,218.1L446.0,218.2L447.2,218.6L448.4,219.1L449.6,219.8L450.8,220.5L452.0,221.3L453.2,222.1L454.4,222.9L455.6,223.4L456.8,223.7L458.0,224.0L459.2,224.6L460.4,225.7L461.6,227.1L462.8,228.7L464.0,230.4L465.2,232.6L466.4,234.4L467.6,234.8L468.8,234.2L470.0,233.6L471.2,233.4L472.4,233.2L473.6,233.1L474.8,233.0L476.0,233.0L477.2,233.4L478.4,234.2L479.6,235.1L480.8,235.6L482.0,235.3L483.2,234.3L484.4,233.3L485.6,232.8L486.8,232.4L488.0,232.3L489.2,232.5L490.4,233.3L491.6,235.3L492.8,238.0L494.0,240.5L495.2,242.2L496.4,243.1L497.6,244.0L498.8,244.9L500.0,246.0L501.2,247.2L502.4,248.5L503.6,249.8L504.8,251.1L506.0,252.4L507.2,253.6L508.4,254.8L509.6,255.9L510.8,256.8L512.0,257.4L513.2,257.2L514.4,256.6L515.6,255.7L516.8,254.9L518.0,254.4L519.2,254.4L520.4,254.8L521.6,255.2L522.8,255.5L524.0,255.9L525.2,256.3L526.4,256.8L527.6,257.2L528.8,257.6L530.0,258.1L531.2,258.5L532.4,259.1L533.5,259.7L534.7,260.7L535.9,262.5L537.1,265.0L538.3,267.6L539.5,270.2L540.7,273.3L541.9,276.5L543.1,279.4L544.3,281.5L545.5,283.0L546.7,284.1L547.9,284.8L549.1,285.3L550.3,285.7L551.5,285.9L552.7,285.7L553.9,285.4L555.1,285.1L556.3,284.9L557.5,285.0L558.7,285.4L559.9,286.3L561.1,287.7L562.3,289.2L563.5,290.8L564.7,292.4L565.9,293.9L567.1,295.4L568.3,296.7L569.5,298.0L570.7,298.8L571.9,298.5L573.1,297.4L574.3,296.1L575.5,294.8L576.7,294.1L577.9,294.1L579.1,294.8L580.3,295.8L581.5,296.7L582.7,297.2L583.9,297.0L585.1,296.0L586.3,294.5L587.5,292.7L588.7,290.7L589.9,288.2L591.1,285.5L592.3,283.2L593.5,282.0L594.7,282.0L595.9,282.8L597.1,284.1L598.3,285.4L599.5,286.5L600.7,287.0L601.9,286.7L603.1,286.0L604.3,285.0L605.5,284.0L606.7,283.1L607.9,282.5L609.1,282.3L610.3,282.8L611.5,283.4L612.7,284.0L613.9,284.7L615.1,285.3L616.3,286.0L617.5,286.7L618.7,287.4L619.9,288.1L621.1,288.9L622.3,289.6L623.5,290.3L624.7,290.9L625.9,291.6L627.1,291.5L628.3,290.4L629.5,289.3L630.7,288.8L631.9,288.7L633.1,288.7L634.3,288.5L635.5,288.0L636.7,286.9L637.9,285.6L639.1,284.3L640.3,282.9L641.5,281.5L642.7,280.3L643.9,279.0L645.1,277.8L646.3,276.6L647.5,275.7L648.7,275.7L649.9,276.3L651.1,277.3L652.3,278.8L653.5,280.4L654.7,281.5L655.9,281.5L657.1,280.7L658.3,279.9L659.5,280.3L660.7,281.1L661.9,282.0L663.1,282.8L664.3,283.6L665.5,284.2L666.7,284.8L667.9,285.2L669.1,285.7L670.3,286.1L671.5,286.5L672.7,286.7L673.9,286.7L675.1,286.4L676.3,285.6L677.5,284.6L678.7,283.4L679.9,282.1L681.1,280.8L682.3,279.4L683.5,277.9L684.7,276.4L685.9,275.1L687.1,274.3L688.3,274.1L689.5,274.2L690.7,274.0L691.9,273.1L693.1,271.6L694.3,269.8L695.5,268.0L696.7,266.1L697.9,264.2L699.1,262.2L700.3,260.0L701.5,257.7L702.7,255.6L703.9,253.8L705.1,253.0L706.3,253.5L707.5,254.4L708.7,256.0L709.9,257.7L711.1,258.4L712.3,258.1L713.5,257.4L714.7,256.4L715.9,255.5L717.1,254.7L718.3,254.3L719.5,254.2L720.7,254.2L721.9,254.1L723.1,254.1L724.3,254.0L725.5,253.7L726.7,252.7L727.9,251.6L729.1,251.4L730.3,251.9L731.5,252.4L732.7,252.9L733.9,253.3L735.1,253.8L736.3,254.3L737.5,254.8L738.7,255.3L739.9,255.7L741.1,255.9L742.3,256.0L743.5,256.0L744.7,256.0L745.9,255.7L747.1,255.4L748.3,255.0L749.5,254.7L750.7,254.6L751.9,254.9L753.1,255.8L754.3,257.4L755.5,260.0L756.7,263.0L757.9,265.7L759.1,268.0L760.3,270.1L761.5,271.9L762.7,273.3L763.9,273.9L765.1,273.3L766.3,272.1L767.5,270.9L768.7,269.6L769.9,268.2L771.1,266.7L772.3,265.3L773.5,263.8L774.7,262.4L775.9,261.0L777.1,259.8L778.3,258.6L779.5,257.7L780.6,257.0L781.8,256.4L783.0,255.9L784.2,255.2L785.4,254.4L786.6,253.4L787.8,252.4L789.0,251.6L790.2,250.9L791.4,250.6L792.6,250.7L793.8,251.1L795.0,252.0L796.2,253.6L797.4,255.7L798.6,257.6L799.8,259.0L801.0,260.3L802.2,261.6L803.4,262.6L804.6,263.4L805.8,263.9L807.0,264.2L808.2,264.4L809.4,264.7L810.6,264.6L811.8,264.1L813.0,262.9L814.2,261.1L815.4,259.0L816.6,256.8L817.8,254.2L819.0,251.9L820.2,250.6L821.4,250.0L822.6,250.1L823.8,250.3L825.0,250.6L826.2,251.1L827.4,251.6L828.6,252.2L829.8,252.8L831.0,253.4L832.2,254.1L833.4,255.0L834.6,255.9L835.8,257.0L837.0,258.1L838.2,259.2L839.4,260.4L840.6,261.7L841.8,263.1L843.0,264.6L844.2,266.3L845.4,268.2L846.6,270.0L847.8,271.9L849.0,273.8L850.2,275.8L851.4,277.8L852.6,279.9L853.8,281.8L855.0,282.7L856.2,282.4L857.4,281.6L858.6,281.0L859.8,281.1L861.0,281.1L862.2,281.3L863.4,281.7L864.6,282.4L865.8,283.2L867.0,284.2L868.2,285.3L869.4,286.4L870.6,287.6L871.8,288.8L873.0,290.0L874.2,291.2L875.4,292.4L876.6,293.8L877.8,295.4L879.0,297.0L880.2,298.5L881.4,300.0L882.6,300.8L883.8,299.6L885.0,297.3L886.2,295.6L887.4,295.7L888.6,296.9L889.8,298.7L891.0,300.6L892.2,302.3L893.4,303.6L894.6,304.2L895.8,304.3L897.0,304.5L898.2,305.2L899.4,306.2L900.6,307.2L901.8,308.3L903.0,309.3L904.2,310.3L905.4,311.3L906.6,312.4L907.8,313.4L909.0,314.4L910.2,315.4L911.4,316.3L912.6,316.7L913.8,316.9L915.0,317.4L916.2,318.1L917.4,318.9L918.6,319.7L919.8,320.5L921.0,321.4L922.2,322.3L923.4,323.3L924.6,324.3L925.8,325.3L927.0,326.2L928.2,327.1L929.4,327.9L930.6,328.6L931.8,329.1L933.0,329.6L934.2,330.1L935.4,330.1L936.6,329.7L937.8,329.2L939.0,328.9L940.2,329.1L941.4,329.8L942.6,331.0L943.8,332.7L945.0,334.7L946.2,336.8L947.4,338.9L948.6,341.0L949.8,342.9L951.0,344.4L952.2,344.6L953.4,344.1L954.6,343.5L955.8,343.6L957.0,344.0L958.2,344.6L959.4,345.7L960.6,347.5L961.8,350.4L963.0,353.7L964.2,357.1L965.4,359.8L966.6,362.6L967.8,365.0L969.0,365.9L970.2,365.3L971.4,364.5L972.6,363.8L973.8,363.0L975.0,362.3L976.2,361.5L977.4,360.8L978.6,360.4L979.8,360.3L981.0,360.5L982.2,360.8L983.4,361.2L984.6,361.5L985.8,361.6L987.0,361.4L988.2,360.9L989.4,360.2L990.6,359.4L991.8,358.6L993.0,357.8L994.2,356.9L995.4,356.0L996.6,355.0L997.8,354.1L999.0,353.2L1000.2,352.3L1001.4,351.4L1002.6,350.6L1003.8,350.1L1005.0,349.7L1006.2,349.4L1007.4,349.0L1008.6,348.7L1009.8,348.4L1011.0,348.1L1012.2,347.8L1013.4,347.4L1014.6,347.1L1015.8,346.7L1017.0,346.2L1018.2,345.5L1019.4,344.9L1020.6,344.5L1021.8,344.5L1023.0,345.2L1024.2,346.1L1025.4,347.1L1026.6,348.1L1027.8,349.2L1028.9,350.2L1030.1,351.1L1031.3,351.9L1032.5,352.6L1033.7,353.1L1034.9,353.3L1036.1,353.3L1037.3,352.8L1038.5,352.0L1039.7,350.9L1040.9,349.7L1042.1,348.6L1043.3,347.8L1044.5,347.1L1045.7,346.5L1046.9,346.0L1048.1,345.8L1049.3,345.8L1050.5,346.0L1051.7,346.1L1052.9,346.0L1054.1,345.6L1055.3,344.9L1056.5,344.5L1057.7,344.5L1058.9,345.0L1060.1,345.7L1061.3,346.1L1062.5,345.9L1063.7,345.6L1064.9,345.6L1066.1,346.1L1067.3,347.4L1068.5,349.0L1069.7,350.9L1070.9,352.7L1072.1,354.1L1073.3,355.4L1074.5,356.6L1075.7,357.8L1076.9,359.0L1078.1,360.1L1079.3,361.2L1080.5,362.2L1081.7,363.2L1082.9,364.0L1084.1,364.7L1085.3,364.8L1086.5,364.3L1087.7,363.3L1088.9,361.9L1090.1,360.4L1091.3,358.8L1092.5,357.3L1093.7,355.8L1094.9,355.7L1096.1,356.3L1097.3,357.1L1098.5,358.0L1099.7,358.8L1100.9,359.5L1102.1,360.2L1103.3,360.8L1104.5,361.4L1105.7,361.7L1106.9,361.3L1108.1,360.5L1109.3,359.8L1110.5,359.5L1111.7,359.6L1112.9,359.8L1114.1,360.1L1115.3,360.4L1116.5,360.4L1117.7,360.3L1118.9,359.7L1120.1,358.1L1121.3,355.1L1122.5,351.5L1123.7,347.9L1124.9,344.3L1126.1,340.7L1127.3,337.1L1128.5,333.5L1129.7,330.3L1130.9,328.7L1132.1,328.0L1133.3,327.0L1134.5,325.0L1135.7,322.7L1136.9,320.3L1138.1,317.8L1139.3,315.0L1140.5,312.1L1141.7,309.4L1142.9,307.3L1144.1,307.2L1145.3,308.2L1146.5,309.6L1147.7,310.8L1148.9,311.6L1150.1,312.5L1151.3,313.2L1152.5,313.6" stroke="#0000ff" stroke-width="2.0" fill="none" stroke-linejoin="round" stroke-linecap="butt"/>
<path d="M160.5,310.4L161.7,305.7L162.9,301.6L164.1,298.0L165.3,295.4L166.5,293.5L167.7,292.0L168.9,290.9L170.1,290.2L171.3,289.5L172.5,288.5L173.7,286.9L174.9,285.3L176.1,283.7L177.3,282.3L178.5,280.8L179.7,279.5L180.9,278.2L182.1,277.1L183.3,275.8L184.5,274.1L185.7,272.3L186.9,270.6L188.1,269.3L189.3,268.0L190.5,266.9L191.7,265.9L192.9,265.0L194.1,264.2L195.3,263.3L196.5,262.5L197.7,261.6L198.9,261.1L200.1,261.0L201.3,262.0L202.5,264.7L203.7,267.4L204.9,269.4L206.1,271.2L207.3,272.9L208.5,274.0L209.7,274.0L210.9,272.8L212.1,270.9L213.3,269.2L214.5,268.2L215.7,267.3L216.9,266.4L218.1,265.5L219.3,264.6L220.5,263.5L221.7,262.2L222.9,260.7L224.1,258.2L225.3,255.2L226.5,252.7L227.7,250.8L228.9,249.4L230.1,248.5L231.3,248.5L232.5,249.2L233.7,249.4L234.9,248.5L236.1,247.6L237.3,247.6L238.5,248.3L239.7,248.6L240.9,247.9L242.1,247.0L243.3,246.0L244.5,245.1L245.7,244.3L246.9,243.9L248.1,244.5L249.3,246.5L250.5,248.0L251.7,249.2L252.9,250.4L254.1,251.6L255.3,252.8L256.5,254.0L257.7,255.2L258.9,255.7L260.1,254.1L261.3,251.6L262.5,250.0L263.7,250.0L264.9,250.5L266.1,250.2L267.3,248.8L268.5,247.4L269.7,246.0L270.9,244.6L272.1,243.2L273.3,241.8L274.5,240.4L275.7,238.7L276.9,237.1L278.1,235.7L279.3,234.8L280.5,234.2L281.7,233.8L282.9,233.7L284.1,234.0L285.2,234.1L286.4,233.6L287.6,232.4L288.8,230.9L290.0,229.3L291.2,227.3L292.4,225.7L293.6,225.0L294.8,224.6L296.0,224.3L297.2,223.9L298.4,223.3L299.6,222.7L300.8,222.1L302.0,221.5L303.2,220.8L304.4,220.1L305.6,219.6L306.8,219.4L308.0,219.7L309.2,220.2L310.4,220.9L311.6,221.4L312.8,221.9L314.0,222.3L315.2,222.8L316.4,223.2L317.6,223.5L318.8,223.8L320.0,224.0L321.2,224.0L322.4,223.7L323.6,223.0L324.8,221.8L326.0,220.6L327.2,219.4L328.4,218.3L329.6,217.3L330.8,216.3L332.0,215.2L333.2,214.0L334.4,212.6L335.6,211.1L336.8,209.4L338.0,207.7L339.2,205.9L340.4,204.0L341.6,202.1L342.8,200.4L344.0,199.0L345.2,197.6L346.4,195.7L347.6,194.2L348.8,193.4L350.0,193.3L351.2,193.9L352.4,195.1L353.6,196.2L354.8,196.9L356.0,197.4L357.2,197.4L358.4,196.7L359.6,195.5L360.8,193.6L362.0,191.8L363.2,191.2L364.4,191.3L365.6,191.6L366.8,192.4L368.0,193.8L369.2,195.7L370.4,197.5L371.6,199.3L372.8,200.9L374.0,202.5L375.2,204.0L376.4,205.2L377.6,205.9L378.8,206.0L380.0,205.8L381.2,205.5L382.4,205.3L383.6,205.0L384.8,204.8L386.0,204.5L387.2,204.2L388.4,203.9L389.6,203.7L390.8,203.4L392.0,203.1L393.2,203.2L394.4,204.0L395.6,205.2L396.8,206.8L398.0,208.4L399.2,209.7L400.4,211.1L401.6,212.5L402.8,213.9L404.0,215.4L405.2,217.0L406.4,218.4L407.6,219.3L408.8,219.7L410.0,219.8L411.2,219.7L412.4,219.4L413.6,219.2L414.8,219.1L416.0,219.2L417.2,219.4L418.4,220.0L419.6,221.4L420.8,222.9L422.0,224.7L423.2,226.4L424.4,228.4L425.6,230.2L426.8,231.5L428.0,232.4L429.2,233.1L430.4,233.7L431.6,234.4L432.8,235.0L434.0,235.6L435.2,236.1L436.4,236.4L437.6,236.8L438.8,237.2L440.0,237.5L441.2,237.8L442.4,238.1L443.6,238.4L444.8,239.0L446.0,239.9L447.2,240.8L448.4,241.5L449.6,242.0L450.8,242.3L452.0,242.0L453.2,241.4L454.4,240.9L455.6,240.7L456.8,240.6L458.0,240.7L459.2,240.9L460.4,241.7L461.6,242.6L462.8,242.8L464.0,241.7L465.2,239.9L466.4,238.3L467.6,237.4L468.8,236.8L470.0,237.0L471.2,238.0L472.4,239.1L473.6,240.3L474.8,241.6L476.0,243.0L477.2,244.4L478.4,245.8L479.6,247.2L480.8,248.6L482.0,250.0L483.2,251.3L484.4,252.5L485.6,253.5L486.8,254.5L488.0,255.4L489.2,256.1L490.4,256.2L491.6,255.7L492.8,255.0L494.0,254.5L495.2,254.4L496.4,254.8L497.6,255.4L498.8,256.4L500.0,257.9L501.2,260.1L502.4,262.6L503.6,265.2L504.8,267.6L506.0,269.8L507.2,272.0L508.4,274.0L509.6,275.3L510.8,275.9L512.0,276.1L513.2,276.1L514.4,276.0L515.6,275.9L516.8,275.9L518.0,276.0L519.2,276.3L520.4,276.7L521.6,277.0L522.8,276.9L524.0,276.8L525.2,276.6L526.4,276.4L527.6,276.1L528.8,275.9L530.0,275.6L531.2,275.3L532.4,275.0L533.5,274.6L534.7,274.3L535.9,274.0L537.1,273.7L538.3,273.6L539.5,274.3L540.7,275.6L541.9,277.1L543.1,278.1L544.3,278.8L545.5,279.4L546.7,279.8L547.9,280.2L549.1,280.4L550.3,280.0L551.5,279.0L552.7,278.0L553.9,277.6L555.1,277.9L556.3,278.6L557.5,279.5L558.7,280.7L559.9,282.2L561.1,284.0L562.3,285.9L563.5,287.5L564.7,288.7L565.9,289.7L567.1,290.5L568.3,291.2L569.5,291.8L570.7,292.3L571.9,292.7L573.1,292.7L574.3,292.2L575.5,290.9L576.7,289.1L577.9,287.3L579.1,285.9L580.3,284.7L581.5,283.6L582.7,282.8L583.9,282.6L585.1,282.9L586.3,283.4L587.5,284.1L588.7,285.0L589.9,285.9L591.1,286.9L592.3,287.9L593.5,288.9L594.7,289.9L595.9,290.9L597.1,291.9L598.3,292.9L599.5,293.9L600.7,294.9L601.9,295.9L603.1,297.1L604.3,298.4L605.5,300.0L606.7,301.5L607.9,302.9L609.1,304.3L610.3,305.6L611.5,306.8L612.7,308.0L613.9,308.9L615.1,309.7L616.3,309.9L617.5,309.8L618.7,309.4L619.9,309.0L621.1,308.3L622.3,307.6L623.5,307.8L624.7,308.6L625.9,309.5L627.1,310.6L628.3,311.5L629.5,312.3L630.7,313.1L631.9,313.8L633.1,314.5L634.3,315.1L635.5,315.2L636.7,314.6L637.9,313.5L639.1,311.6L640.3,309.7L641.5,308.3L642.7,307.8L643.9,307.4L645.1,307.0L646.3,306.6L647.5,306.2L648.7,305.8L649.9,305.4L651.1,305.0L652.3,304.6L653.5,304.2L654.7,303.9L655.9,304.1L657.1,304.4L658.3,304.3L659.5,303.6L660.7,302.6L661.9,301.6L663.1,301.0L664.3,300.6L665.5,300.4L666.7,300.3L667.9,300.3L669.1,300.3L670.3,300.4L671.5,301.0L672.7,301.8L673.9,302.9L675.1,303.8L676.3,304.4L677.5,304.5L678.7,303.6L679.9,302.1L681.1,300.5L682.3,299.3L683.5,299.0L684.7,299.4L685.9,300.1L687.1,301.0L688.3,301.7L689.5,302.0L690.7,301.8L691.9,301.0L693.1,300.0L694.3,299.0L695.5,298.5L696.7,298.4L697.9,298.7L699.1,299.0L700.3,299.3L701.5,299.5L702.7,299.6L703.9,299.7L705.1,299.6L706.3,299.3L707.5,298.7L708.7,297.7L709.9,296.3L711.1,294.5L712.3,292.5L713.5,290.4L714.7,288.2L715.9,286.0L717.1,283.7L718.3,281.5L719.5,278.9L720.7,276.3L721.9,273.8L723.1,271.9L724.3,270.7L725.5,269.8L726.7,268.7L727.9,267.7L729.1,267.0L730.3,267.1L731.5,268.0L732.7,269.1L733.9,269.9L735.1,270.4L736.3,270.9L737.5,271.1L738.7,270.8L739.9,270.4L741.1,269.8L742.3,269.1L743.5,268.3L744.7,267.6L745.9,266.7L747.1,265.7L748.3,264.8L749.5,263.9L750.7,263.2L751.9,262.7L753.1,262.4L754.3,262.3L755.5,262.3L756.7,262.3L757.9,262.3L759.1,262.0L760.3,261.6L761.5,261.2L762.7,260.7L763.9,260.0L765.1,258.9L766.3,257.7L767.5,256.5L768.7,255.3L769.9,254.0L771.1,252.3L772.3,251.1L773.5,251.3L774.7,253.3L775.9,255.7L777.1,257.8L778.3,259.8L779.5,261.7L780.6,263.2L781.8,264.3L783.0,265.2L784.2,266.2L785.4,267.2L786.6,268.0L787.8,268.5L789.0,268.6L790.2,267.8L791.4,266.1L792.6,264.3L793.8,263.1L795.0,262.6L796.2,262.2L797.4,261.9L798.6,261.6L799.8,261.1L801.0,260.3L802.2,259.4L803.4,258.3L804.6,257.3L805.8,256.5L807.0,256.3L808.2,257.0L809.4,257.9L810.6,258.4L811.8,258.0L813.0,256.6L814.2,254.8L815.4,253.4L816.6,252.9L817.8,253.5L819.0,254.4L820.2,255.3L821.4,256.4L822.6,257.6L823.8,258.8L825.0,260.0L826.2,261.2L827.4,262.4L828.6,263.6L829.8,264.8L831.0,266.0L832.2,267.2L833.4,268.5L834.6,270.0L835.8,271.7L837.0,273.5L838.2,275.2L839.4,276.5L840.6,277.4L841.8,277.9L843.0,278.3L844.2,278.5L845.4,278.7L846.6,278.8L847.8,278.9L849.0,279.1L850.2,279.2L851.4,279.3L852.6,279.5L853.8,279.8L855.0,280.2L856.2,280.8L857.4,281.5L858.6,282.6L859.8,284.5L861.0,286.8L862.2,289.1L863.4,291.2L864.6,292.7L865.8,294.1L867.0,295.4L868.2,296.5L869.4,297.5L870.6,298.4L871.8,299.0L873.0,299.4L874.2,299.7L875.4,300.1L876.6,300.7L877.8,301.8L879.0,303.4L880.2,305.3L881.4,307.2L882.6,308.6L883.8,309.6L885.0,310.4L886.2,311.0L887.4,311.4L888.6,311.7L889.8,312.0L891.0,311.9L892.2,311.3L893.4,310.9L894.6,311.4L895.8,312.6L897.0,314.3L898.2,316.1L899.4,317.5L900.6,318.4L901.8,318.8L903.0,319.1L904.2,319.4L905.4,319.8L906.6,320.6L907.8,321.9L909.0,323.2L910.2,324.7L911.4,326.1L912.6,327.5L913.8,328.9L915.0,330.2L916.2,331.4L917.4,332.5L918.6,333.3L919.8,333.0L921.0,332.0L922.2,331.0L923.4,330.4L924.6,330.6L925.8,331.0L927.0,331.4L928.2,332.0L929.4,332.6L930.6,333.4L931.8,334.2L933.0,335.0L934.2,335.8L935.4,336.6L936.6,337.4L937.8,338.1L939.0,338.8L940.2,339.5L941.4,339.6L942.6,339.1L943.8,338.4L945.0,337.9L946.2,337.9L947.4,338.8L948.6,340.5L949.8,342.6L951.0,344.5L952.2,345.6L953.4,346.3L954.6,346.8L955.8,347.0L957.0,346.7L958.2,346.7L959.4,347.1L960.6,347.5L961.8,347.9L963.0,348.3L964.2,348.6L965.4,348.7L966.6,348.5L967.8,348.2L969.0,347.9L970.2,347.8L971.4,347.7L972.6,347.7L973.8,347.7L975.0,347.9L976.2,348.5L977.4,349.1L978.6,349.0L979.8,348.8L981.0,349.0L982.2,350.5L983.4,353.0L984.6,355.4L985.8,356.9L987.0,357.7L988.2,357.5L989.4,355.7L990.6,353.1L991.8,351.2L993.0,350.4L994.2,349.9L995.4,349.5L996.6,349.5L997.8,349.5L999.0,349.4L1000.2,348.9L1001.4,348.1L1002.6,347.0L1003.8,345.8L1005.0,344.5L1006.2,343.0L1007.4,341.8L1008.6,341.7L1009.8,343.0L1011.0,344.7L1012.2,345.7L1013.4,345.7L1014.6,345.6L1015.8,345.5L1017.0,346.0L1018.2,347.1L1019.4,348.6L1020.6,350.1L1021.8,351.4L1023.0,352.3L1024.2,353.1L1025.4,353.7L1026.6,354.1L1027.8,353.7L1028.9,353.3L1030.1,353.7L1031.3,354.8L1032.5,355.9L1033.7,357.0L1034.9,358.1L1036.1,359.1L1037.3,360.2L1038.5,361.3L1039.7,362.2L1040.9,362.6L1042.1,362.0L1043.3,361.3L1044.5,360.9L1045.7,361.1L1046.9,361.3L1048.1,361.1L1049.3,360.0L1050.5,358.5L1051.7,357.0L1052.9,355.4L1054.1,353.8L1055.3,352.3L1056.5,350.8L1057.7,349.3L1058.9,346.8L1060.1,342.6L1061.3,339.2L1062.5,336.8L1063.7,335.4L1064.9,336.1L1066.1,337.1L1067.3,338.2L1068.5,339.2L1069.7,340.2L1070.9,341.3L1072.1,342.3L1073.3,343.3L1074.5,343.9L1075.7,344.1L1076.9,343.6L1078.1,342.8L1079.3,341.7L1080.5,340.5L1081.7,339.2L1082.9,337.7L1084.1,336.2L1085.3,334.9L1086.5,334.1L1087.7,333.5L1088.9,333.1L1090.1,332.7L1091.3,332.3L1092.5,331.7L1093.7,331.1L1094.9,330.5L1096.1,329.9L1097.3,329.3L1098.5,328.8L1099.7,328.4L1100.9,328.0L1102.1,327.5L1103.3,326.3L1104.5,324.6L1105.7,323.2L1106.9,322.5L1108.1,321.8L1109.3,321.2L1110.5,320.6L1111.7,320.1L1112.9,319.7L1114.1,319.2L1115.3,318.8L1116.5,318.4L1117.7,318.1L1118.9,317.8L1120.1,317.6L1121.3,317.5L1122.5,317.5L1123.7,317.7L1124.9,318.1L1126.1,318.6L1127.3,319.2L1128.5,319.9L1129.7,320.8L1130.9,321.7L1132.1,322.5L1133.3,322.4L1134.5,321.9L1135.7,321.9L1136.9,322.6L1138.1,323.7L1139.3,324.9L1140.5,326.2L1141.7,327.8L1142.9,329.4L1144.1,330.2L1145.3,329.8L1146.5,328.6L1147.7,327.1L1148.9,325.5L1150.1,323.9L1151.3,322.4L1152.5,321.6" stroke="#008000" stroke-width="2.0" fill="none" stroke-linejoin="round" stroke-linecap="butt"/>
<path d="M435.6,150.6L436.8,148.6L438.0,147.8L439.2,148.0L440.4,148.5L441.6,149.2L442.8,149.7L444.0,150.0L445.2,149.9L446.4,149.6L447.6,149.4L448.8,149.8L450.0,150.9L451.2,152.3L452.4,153.6L453.6,154.6L454.8,154.9L455.9,153.3L457.1,152.1L458.3,151.8L459.5,151.9L460.7,152.5L461.9,153.5L463.1,154.8" stroke="#ff0000" stroke-width="2.0" fill="none" stroke-linejoin="round" stroke-linecap="butt"/>
<path d="M160.5,319.8L161.7,319.4L162.9,319.5L164.1,320.3L165.3,321.4L166.5,322.6L167.7,323.7L168.9,324.9L170.1,326.1L171.3,327.3L172.5,328.5L173.7,329.3L174.9,327.9L176.1,324.6L177.3,320.2L178.5,315.6L179.7,310.8L180.9,306.0L182.1,301.8L183.3,298.4L184.5,295.7L185.7,293.3L186.9,291.1L188.1,289.2L189.3,287.9L190.5,286.7L191.7,285.5L192.9,284.3L194.1,283.1L195.3,281.9L196.5,280.7L197.7,279.5L198.9,278.2L200.1,276.7L201.3,274.8L202.5,272.3L203.8,270.0L205.0,268.0L206.2,266.2L207.4,264.4L208.6,262.8L209.8,261.2L211.0,259.9L212.2,258.8L213.4,257.8L214.6,256.9L215.8,256.3L217.0,256.0L218.2,256.2L219.4,256.9L220.6,257.8L221.8,258.8L223.0,259.7L224.2,260.8L225.4,261.9L226.6,262.5L227.8,262.4L229.0,261.1L230.2,259.2L231.4,257.3L232.6,255.5L233.8,253.6L235.0,251.9L236.2,250.6L237.4,249.8L238.6,249.2L239.8,248.9L241.0,248.9L242.2,249.1L243.4,249.2L244.6,249.0L245.8,248.2L247.0,247.1L248.2,245.7L249.4,244.1L250.6,242.3L251.8,240.4L253.0,238.5L254.2,236.9L255.4,235.3L256.6,233.8L257.8,232.6L259.0,231.7L260.2,231.0L261.4,230.4L262.6,229.9L263.8,229.3L265.0,228.8L266.2,228.3L267.4,227.9L268.6,227.5L269.8,227.4L271.0,227.5L272.2,227.9L273.4,228.4L274.6,228.9L275.8,229.6L277.0,230.3L278.2,231.0L279.4,231.6L280.6,232.0L281.8,232.3L283.0,232.5L284.2,232.4L285.4,231.8L286.6,230.9L287.8,229.6L289.0,228.1L290.3,226.4L291.5,224.7L292.7,222.9L293.9,220.7L295.1,218.3L296.3,215.9L297.5,213.9L298.7,212.7L299.9,212.3L301.1,212.5L302.3,212.8L303.5,212.8L304.7,212.3L305.9,211.5L307.1,210.8L308.3,210.6L309.5,211.1L310.7,211.8L311.9,212.1L313.1,211.5L314.3,210.4L315.5,209.1L316.7,207.6L317.9,205.9L319.1,204.3L320.3,202.7L321.5,201.1L322.7,199.7L323.9,198.7L325.1,198.1L326.3,197.6L327.5,197.3L328.7,196.9L329.9,196.5L331.1,196.2L332.3,195.9L333.5,195.6L334.7,195.1L335.9,194.3L337.1,192.6L338.3,190.7L339.5,188.9L340.7,187.3L341.9,185.5L343.1,183.0L344.3,179.6L345.5,176.0L346.7,172.4L347.9,168.7L349.1,165.1L350.3,161.5L351.5,158.0L352.7,154.9L353.9,152.3L355.1,149.7L356.3,146.7L357.5,144.1L358.7,142.4L359.9,141.5L361.1,140.8L362.3,140.1L363.5,139.2L364.7,138.2L365.9,137.2L367.1,136.3L368.3,136.0L369.5,136.2L370.7,136.5L371.9,137.3L373.1,138.3L374.3,139.1L375.6,139.4L376.8,139.0L378.0,138.2L379.2,137.5L380.4,137.2L381.6,137.9L382.8,139.3L384.0,140.0L385.2,139.7L386.4,140.2L387.6,141.1L388.8,141.9L390.0,142.4L391.2,142.8L392.4,142.7L393.6,142.2L394.8,141.6L396.0,140.8L397.2,139.9L398.4,139.0L399.6,137.9L400.8,136.5L402.0,134.4L403.2,132.2L404.4,130.8L405.6,130.7L406.8,131.1L408.0,131.6L409.2,132.1L410.4,132.5L411.6,133.0L412.8,133.6L414.0,134.6L415.2,136.3L416.4,137.6L417.6,137.8L418.8,138.2L420.0,139.1L421.2,140.1L422.4,141.2L423.6,142.4L424.8,143.6L426.0,145.0L427.2,146.5L428.4,148.5L429.6,151.0L430.8,151.6L432.0,150.7L433.2,150.3L434.4,150.7L435.6,151.5" stroke="#000000" stroke-width="2.0" fill="none" stroke-linejoin="round" stroke-linecap="butt"/>
<path d="M160.5,442.5L161.7,441.4L162.9,440.3L164.1,439.2L165.3,438.2L166.5,437.2L167.7,436.2L168.9,435.2L170.1,434.2L171.3,433.2L172.5,432.2L173.7,431.3L174.9,430.4L176.1,429.5L177.3,428.7L178.5,427.9L179.7,427.2L180.9,426.6L182.1,426.3L183.3,426.0L184.5,425.7L185.7,425.2L186.9,424.5L188.1,423.8L189.3,423.0L190.5,422.1L191.7,421.2L192.9,420.1L194.1,419.0L195.3,418.0L196.5,417.0L197.7,416.1L198.9,415.4L200.1,414.7L201.3,414.1L202.5,413.5L203.7,412.8L204.9,412.1L206.1,411.3L207.3,410.4L208.5,409.6L209.7,408.7L210.9,407.8L212.1,407.0L213.3,406.3L214.5,405.7L215.7,405.2L216.9,404.7L218.1,404.2L219.3,403.6L220.5,403.0L221.7,402.2L222.9,401.3L224.1,400.3L225.3,399.2L226.5,398.3L227.7,397.4L228.9,396.6L230.1,395.7L231.3,394.9L232.5,394.1L233.7,393.3L234.9,392.4L236.1,391.5L237.3,390.6L238.5,389.7L239.7,388.9L240.9,388.4L242.1,387.9L243.3,387.5L244.5,386.9L245.7,386.2L246.9,385.2L248.1,384.1L249.3,383.0L250.5,381.8L251.7,380.6L252.9,379.5L254.1,378.3L255.3,377.3L256.5,376.2L257.7,375.2L258.9,374.1L260.1,373.1L261.3,372.0L262.5,371.0L263.7,369.9L264.9,368.9L266.1,367.8L267.3,366.8L268.5,365.7L269.7,364.7L270.9,363.6L272.1,362.6L273.3,361.6L274.5,360.8L275.7,360.2L276.9,359.8L278.1,359.3L279.3,358.7L280.5,358.1L281.7,357.4L282.9,356.8L284.1,356.1L285.2,355.5L286.4,354.9L287.6,354.4L288.8,353.9L290.0,353.3L291.2,352.9L292.4,352.4L293.6,351.9L294.8,351.4L296.0,350.8L297.2,350.3L298.4,349.8L299.6,349.2L300.8,348.6L302.0,348.0L303.2,347.5L304.4,346.9L305.6,346.3L306.8,345.8L308.0,345.3L309.2,344.8L310.4,344.4L311.6,344.1L312.8,343.9L314.0,343.7L315.2,343.6L316.4,343.6L317.6,343.6L318.8,343.6L320.0,343.6L321.2,343.6L322.4,343.5L323.6,343.3L324.8,343.1L326.0,342.8L327.2,342.5L328.4,342.3L329.6,342.1L330.8,341.9L332.0,341.9L333.2,341.9L334.4,342.0L335.6,342.0L336.8,342.0L338.0,341.9L339.2,341.6L340.4,341.3L341.6,340.9L342.8,340.5L344.0,340.1L345.2,339.7L346.4,339.2L347.6,338.7L348.8,338.2L350.0,337.7L351.2,337.2L352.4,336.7L353.6,336.1L354.8,335.6L356.0,335.1L357.2,334.6L358.4,334.1L359.6,333.6L360.8,333.2L362.0,332.7L363.2,332.2L364.4,331.7L365.6,331.3L366.8,330.8L368.0,330.3L369.2,329.7L370.4,329.0L371.6,328.4L372.8,327.9L374.0,327.6L375.2,327.4L376.4,327.5L377.6,327.6L378.8,327.8L380.0,328.0L381.2,328.3L382.4,328.8L383.6,329.2L384.8,329.7L386.0,330.2L387.2,330.5L388.4,330.6L389.6,330.6L390.8,330.5L392.0,330.4L393.2,330.3L394.4,330.4L395.6,330.6L396.8,330.9L398.0,331.1L399.2,331.4L400.4,331.7L401.6,332.0L402.8,332.3L404.0,332.7L405.2,333.1L406.4,333.5L407.6,333.8L408.8,334.2L410.0,334.6L411.2,335.0L412.4,335.5L413.6,335.9L414.8,336.3L416.0,336.8L417.2,337.2L418.4,337.7L419.6,338.1L420.8,338.5L422.0,339.0L423.2,339.4L424.4,339.9L425.6,340.3L426.8,340.8L428.0,341.2L429.2,341.7L430.4,342.4L431.6,343.3L432.8,344.2L434.0,345.2L435.2,346.0L436.4,346.6L437.6,347.0L438.8,347.4L440.0,347.8L441.2,348.2L442.4,348.5L443.6,348.9L444.8,349.2L446.0,349.5L447.2,349.8L448.4,350.1L449.6,350.4L450.8,350.7L452.0,351.0L453.2,351.3L454.4,351.6L455.6,351.9L456.8,352.2L458.0,352.5L459.2,352.8L460.4,353.1L461.6,353.4L462.8,353.7L464.0,354.1L465.2,354.4L466.4,354.8L467.6,355.2L468.8,355.6L470.0,356.1L471.2,356.5L472.4,357.0L473.6,357.4L474.8,357.8L476.0,358.3L477.2,358.8L478.4,359.3L479.6,359.8L480.8,360.4L482.0,361.0L483.2,361.7L484.4,362.5L485.6,363.2L486.8,363.9L488.0,364.5L489.2,365.0L490.4,365.5L491.6,366.0L492.8,366.5L494.0,367.0L495.2,367.6L496.4,368.3L497.6,369.0L498.8,369.9L500.0,370.7L501.2,371.5L502.4,372.3L503.6,372.9L504.8,373.4L506.0,373.9L507.2,374.3L508.4,374.7L509.6,375.1L510.8,375.5L512.0,376.0L513.2,376.6L514.4,377.2L515.6,377.8L516.8,378.5L518.0,379.1L519.2,379.6L520.4,380.1L521.6,380.6L522.8,381.1L524.0,381.6L525.2,382.1L526.4,382.5L527.6,383.0L528.8,383.5L530.0,384.0L531.2,384.5L532.4,384.9L533.5,385.4L534.7,385.9L535.9,386.4L537.1,386.9L538.3,387.3L539.5,387.8L540.7,388.2L541.9,388.5L543.1,388.7L544.3,389.0L545.5,389.3L546.7,389.7L547.9,390.2L549.1,390.7L550.3,391.3L551.5,391.9L552.7,392.5L553.9,393.2L555.1,393.8L556.3,394.5L557.5,395.1L558.7,395.8L559.9,396.5L561.1,397.2L562.3,397.9L563.5,398.7L564.7,399.6L565.9,400.5L567.1,401.5L568.3,402.4L569.5,403.4L570.7,404.2L571.9,404.9L573.1,405.5L574.3,406.1L575.5,406.6L576.7,407.2L577.9,407.7L579.1,408.3L580.3,408.9L581.5,409.6L582.7,410.4L583.9,411.2L585.1,412.0L586.3,412.7L587.5,413.3L588.7,413.8L589.9,414.2L591.1,414.5L592.3,414.9L593.5,415.2L594.7,415.4L595.9,415.7L597.1,416.0L598.3,416.2L599.5,416.4L600.7,416.7L601.9,416.9L603.1,417.1L604.3,417.3L605.5,417.5L606.7,417.6L607.9,417.8L609.1,417.9L610.3,418.0L611.5,418.0L612.7,417.8L613.9,417.6L615.1,417.5L616.3,417.6L617.5,417.9L618.7,418.3L619.9,418.6L621.1,419.0L622.3,419.2L623.5,419.3L624.7,419.1L625.9,418.9L627.1,418.6L628.3,418.3L629.5,418.1L630.7,417.9L631.9,417.8L633.1,417.8L634.3,417.7L635.5,417.6L636.7,417.5L637.9,417.5L639.1,417.4L640.3,417.4L641.5,417.4L642.7,417.3L643.9,417.3L645.1,417.2L646.3,417.2L647.5,417.2L648.7,417.1L649.9,417.1L651.1,417.0L652.3,417.0L653.5,417.2L654.7,417.7L655.9,418.3L657.1,418.8L658.3,419.0L659.5,418.9L660.7,418.6L661.9,418.3L663.1,418.1L664.3,417.8L665.5,417.7L666.7,417.8L667.9,417.9L669.1,418.1L670.3,418.3L671.5,418.4L672.7,418.4L673.9,418.3L675.1,418.0L676.3,417.5L677.5,416.9L678.7,416.3L679.9,415.7L681.1,415.1L682.3,414.6L683.5,414.1L684.7,413.6L685.9,413.1L687.1,412.6L688.3,412.1L689.5,411.7L690.7,411.2L691.9,410.7L693.1,410.3L694.3,409.8L695.5,409.4L696.7,409.0L697.9,408.6L699.1,408.3L700.3,407.9L701.5,407.7L702.7,407.5L703.9,407.3L705.1,407.0L706.3,406.6L707.5,406.2L708.7,405.8L709.9,405.4L711.1,405.0L712.3,404.6L713.5,404.1L714.7,403.7L715.9,403.2L717.1,402.7L718.3,402.2L719.5,401.6L720.7,401.0L721.9,400.4L723.1,399.5L724.3,398.4L725.5,397.2L726.7,396.1L727.9,395.2L729.1,394.5L730.3,393.8L731.5,393.4L732.7,393.3L733.9,393.4L735.1,393.5L736.3,393.8L737.5,394.0L738.7,394.3L739.9,394.7L741.1,395.2L742.3,395.5L743.5,395.5L744.7,395.4L745.9,395.1L747.1,394.8L748.3,394.4L749.5,394.1L750.7,393.7L751.9,393.4L753.1,393.1L754.3,392.8L755.5,392.6L756.7,392.3L757.9,392.0L759.1,391.8L760.3,391.5L761.5,391.2L762.7,390.8L763.9,390.4L765.1,389.9L766.3,389.4L767.5,388.9L768.7,388.5L769.9,388.0L771.1,387.7L772.3,387.4L773.5,387.1L774.7,386.9L775.9,386.8L777.1,386.7L778.3,386.9L779.5,387.2L780.6,387.6L781.8,387.9L783.0,388.0L784.2,387.9L785.4,387.7L786.6,387.5L787.8,387.2L789.0,386.9L790.2,386.6L791.4,386.4L792.6,386.2L793.8,386.2L795.0,386.1L796.2,386.0L797.4,385.9L798.6,385.9L799.8,385.8L801.0,385.7L802.2,385.5L803.4,385.4L804.6,385.3L805.8,385.2L807.0,385.1L808.2,384.9L809.4,384.6L810.6,384.2L811.8,383.8L813.0,383.5L814.2,383.3L815.4,383.3L816.6,383.4L817.8,383.6L819.0,383.9L820.2,384.3L821.4,384.7L822.6,385.0L823.8,385.4L825.0,385.8L826.2,386.1L827.4,386.5L828.6,386.9L829.8,387.4L831.0,388.0L832.2,388.6L833.4,389.3L834.6,390.1L835.8,390.9L837.0,391.7L838.2,392.6L839.4,393.4L840.6,394.3L841.8,395.1L843.0,395.8L844.2,396.6L845.4,397.3L846.6,398.1L847.8,398.8L849.0,399.5L850.2,400.3L851.4,401.0L852.6,401.8L853.8,402.5L855.0,403.4L856.2,404.2L857.4,405.1L858.6,406.0L859.8,406.9L861.0,407.8L862.2,408.6L863.4,409.3L864.6,410.0L865.8,410.6L867.0,411.2L868.2,411.8L869.4,412.3L870.6,412.7L871.8,413.2L873.0,413.6L874.2,414.0L875.4,414.3L876.6,414.7L877.8,415.1L879.0,415.6L880.2,416.1L881.4,416.6L882.6,417.1L883.8,417.7L885.0,418.3L886.2,418.9L887.4,419.6L888.6,420.4L889.8,421.2L891.0,422.2L892.2,423.1L893.4,424.1L894.6,425.2L895.8,426.2L897.0,427.2L898.2,428.2L899.4,429.1L900.6,429.9L901.8,430.7L903.0,431.5L904.2,432.3L905.4,433.1L906.6,433.9L907.8,434.7L909.0,435.6L910.2,436.4L911.4,437.2L912.6,438.1L913.8,438.9L915.0,439.7L916.2,440.6L917.4,441.4L918.6,442.3L919.8,443.1L921.0,444.0L922.2,444.9L923.4,445.8L924.6,446.8L925.8,447.7L927.0,448.7L928.2,449.5L929.4,450.4L930.6,451.1L931.8,451.8L933.0,452.3L934.2,452.8L935.4,453.3L936.6,453.7L937.8,454.2L939.0,454.6L940.2,455.1L941.4,455.6L942.6,456.1L943.8,456.6L945.0,457.1L946.2,457.7L947.4,458.2L948.6,458.7L949.8,459.2L951.0,459.6L952.2,460.1L953.4,460.5L954.6,460.9L955.8,461.2L957.0,461.6L958.2,462.0L959.4,462.3L960.6,462.7L961.8,463.0L963.0,463.2L964.2,463.4L965.4,463.6L966.6,463.8L967.8,464.2L969.0,464.6L970.2,465.1L971.4,465.7L972.6,466.3L973.8,467.0L975.0,467.6L976.2,468.3L977.4,469.0L978.6,469.7L979.8,470.4L981.0,471.1L982.2,471.7L983.4,472.5L984.6,473.2L985.8,473.9L987.0,474.5L988.2,475.2L989.4,475.8L990.6,476.3L991.8,476.8L993.0,477.1L994.2,477.4L995.4,477.7L996.6,478.0L997.8,478.3L999.0,478.6L1000.2,478.9L1001.4,479.3L1002.6,479.5L1003.8,479.8L1005.0,480.1L1006.2,480.3L1007.4,480.5L1008.6,480.6L1009.8,480.8L1011.0,480.9L1012.2,481.0L1013.4,481.1L1014.6,481.2L1015.8,481.3L1017.0,481.4L1018.2,481.6L1019.4,481.7L1020.6,481.9L1021.8,482.0L1023.0,482.2L1024.2,482.3L1025.4,482.5L1026.6,482.6L1027.8,482.8L1028.9,482.9L1030.1,483.1L1031.3,483.2L1032.5,483.4L1033.7,483.5L1034.9,483.6L1036.1,483.7L1037.3,483.8L1038.5,483.9L1039.7,484.0L1040.9,484.0L1042.1,483.9L1043.3,483.6L1044.5,483.3L1045.7,483.0L1046.9,482.6L1048.1,482.3L1049.3,482.0L1050.5,481.6L1051.7,481.2L1052.9,480.8L1054.1,480.5L1055.3,480.2L1056.5,480.0L1057.7,479.9L1058.9,479.9L1060.1,479.9L1061.3,480.0L1062.5,480.0L1063.7,480.1L1064.9,480.0L1066.1,479.9L1067.3,479.7L1068.5,479.3L1069.7,478.8L1070.9,478.3L1072.1,477.7L1073.3,477.1L1074.5,476.5L1075.7,476.0L1076.9,475.4L1078.1,474.9L1079.3,474.4L1080.5,473.9L1081.7,473.4L1082.9,473.0L1084.1,473.0L1085.3,472.9L1086.5,472.6L1087.7,472.2L1088.9,471.7L1090.1,471.2L1091.3,470.8L1092.5,470.4L1093.7,470.1L1094.9,470.0L1096.1,470.1L1097.3,470.2L1098.5,470.2L1099.7,470.1L1100.9,469.9L1102.1,469.6L1103.3,469.3L1104.5,469.0L1105.7,468.6L1106.9,468.2L1108.1,467.7L1109.3,467.1L1110.5,466.4L1111.7,465.6L1112.9,464.8L1114.1,464.2L1115.3,463.6L1116.5,463.2L1117.7,462.8L1118.9,462.4L1120.1,461.9L1121.3,461.5L1122.5,461.1L1123.7,460.6L1124.9,460.1L1126.1,459.5L1127.3,458.6L1128.5,457.6L1129.7,456.2L1130.9,454.8L1132.1,453.3L1133.3,451.8L1134.5,450.3L1135.7,449.0L1136.9,448.0L1138.1,447.3L1139.3,446.6L1140.5,446.0L1141.7,445.3L1142.9,444.7L1144.1,444.1L1145.3,443.5L1146.5,443.0L1147.7,442.5L1148.9,442.1L1150.1,441.8L1151.3,441.4L1152.5,441.1" stroke="#808080" stroke-width="2.0" fill="none" stroke-linejoin="round" stroke-linecap="butt"/>
</g>
<rect x="160.5" y="92.5" width="992.0" height="591.0" fill="none" stroke="#000" stroke-width="0.72"/>
<path d="M243.62,683.5v3.2M319.93,683.5v3.2M404.41,683.5v3.2M486.17,683.5v3.2M570.65,683.5v3.2M652.41,683.5v3.2M736.90,683.5v3.2M821.38,683.5v3.2M903.14,683.5v3.2M987.62,683.5v3.2M1069.38,683.5v3.2M160.5,142.25h-3.2M160.5,217.82h-3.2M160.5,293.39h-3.2M160.5,368.97h-3.2M160.5,444.54h-3.2M160.5,520.11h-3.2M160.5,595.68h-3.2M160.5,671.25h-3.2" stroke="#000" stroke-width="0.75" fill="none"/>
<g font-size="14.2" fill="#000">
<text x="153.5" y="147.65" text-anchor="end" font-size="13.9">21.0</text>
<text x="153.5" y="223.22" text-anchor="end" font-size="13.9">20.8</text>
<text x="153.5" y="298.79" text-anchor="end" font-size="13.9">20.6</text>
<text x="153.5" y="374.37" text-anchor="end" font-size="13.9">20.4</text>
<text x="153.5" y="449.94" text-anchor="end" font-size="13.9">20.2</text>
<text x="153.5" y="525.51" text-anchor="end" font-size="13.9">20.0</text>
<text x="153.5" y="601.08" text-anchor="end" font-size="13.9">19.8</text>
<text x="153.5" y="676.65" text-anchor="end" font-size="13.9">19.6</text>
<text transform="translate(241.32,699.60) rotate(-30)" text-anchor="end" font-size="14">Feb</text>
<text transform="translate(317.63,699.60) rotate(-30)" text-anchor="end" font-size="14">Mar</text>
<text transform="translate(402.11,699.60) rotate(-30)" text-anchor="end" font-size="14">Apr</text>
<text transform="translate(483.87,699.60) rotate(-30)" text-anchor="end" font-size="14">May</text>
<text transform="translate(568.35,699.60) rotate(-30)" text-anchor="end" font-size="14">Jun</text>
<text transform="translate(650.11,699.60) rotate(-30)" text-anchor="end" font-size="14">Jul</text>
<text transform="translate(734.60,699.60) rotate(-30)" text-anchor="end" font-size="14">Aug</text>
<text transform="translate(819.08,699.60) rotate(-30)" text-anchor="end" font-size="14">Sep</text>
<text transform="translate(900.84,699.60) rotate(-30)" text-anchor="end" font-size="14">Oct</text>
<text transform="translate(985.32,699.60) rotate(-30)" text-anchor="end" font-size="14">Nov</text>
<text transform="translate(1067.08,699.60) rotate(-30)" text-anchor="end" font-size="14">Dec</text>
<text x="656" y="731.8" text-anchor="middle">Time</text>
<text transform="translate(114.4,387.8) rotate(-90)" text-anchor="middle">Temperature</text>
</g>
<text x="656" y="87" text-anchor="middle" font-size="16" fill="#000">Sea Surface Temperature average 60°S 60°N</text>
<rect x="1011.7" y="96.7" width="135.89999999999986" height="123.3" rx="1.8" fill="#fff" fill-opacity="0.8" stroke="#ccc" stroke-opacity="0.8" stroke-width="0.9"/>
<g font-size="8.89" fill="#000">
<path d="M1015.2,104.60H1033" stroke="#0000ff" stroke-width="2.0" stroke-linecap="square"/>
<text x="1040.1" y="107.90">GLO12 2021</text>
<path d="M1015.2,117.93H1033" stroke="#008000" stroke-width="2.0" stroke-linecap="square"/>
<text x="1040.1" y="121.23">GLO12 2022</text>
<path d="M1015.2,131.26H1033" stroke="#ff0000" stroke-width="2.0" stroke-linecap="square"/>
<text x="1040.1" y="134.56">GLO12 Fct 2023</text>
<path d="M1015.2,144.59H1033" stroke="#000000" stroke-width="2.0" stroke-linecap="square"/>
<text x="1040.1" y="147.89">GLO12 2023</text>
<rect x="1015.2" y="154.82" width="18.4" height="6.2" fill="#0000ff" fill-opacity="0.2" stroke="#0000ff" stroke-opacity="0.2" stroke-width="0.9"/>
<text x="1040.1" y="161.22">Min/Max 2021</text>
<rect x="1015.2" y="168.15" width="18.4" height="6.2" fill="#008000" fill-opacity="0.2" stroke="#008000" stroke-opacity="0.2" stroke-width="0.9"/>
<text x="1040.1" y="174.55">Min/Max 2022</text>
<rect x="1015.2" y="181.48" width="18.4" height="6.2" fill="#ff0000" fill-opacity="0.2" stroke="#ff0000" stroke-opacity="0.2" stroke-width="0.9"/>
<text x="1040.1" y="187.88">Min/Max 2023</text>
<path d="M1015.2,197.91H1033" stroke="#808080" stroke-width="2.0" stroke-linecap="square"/>
<text x="1040.1" y="201.21">NOAA Mean 1982-2022</text>
<rect x="1015.2" y="208.14" width="18.4" height="6.2" fill="#808080" fill-opacity="0.2" stroke="#808080" stroke-opacity="0.2" stroke-width="0.9"/>
<text x="1040.1" y="214.54">+- 2 sigmas</text>
</g>
</svg>
</body></html>
